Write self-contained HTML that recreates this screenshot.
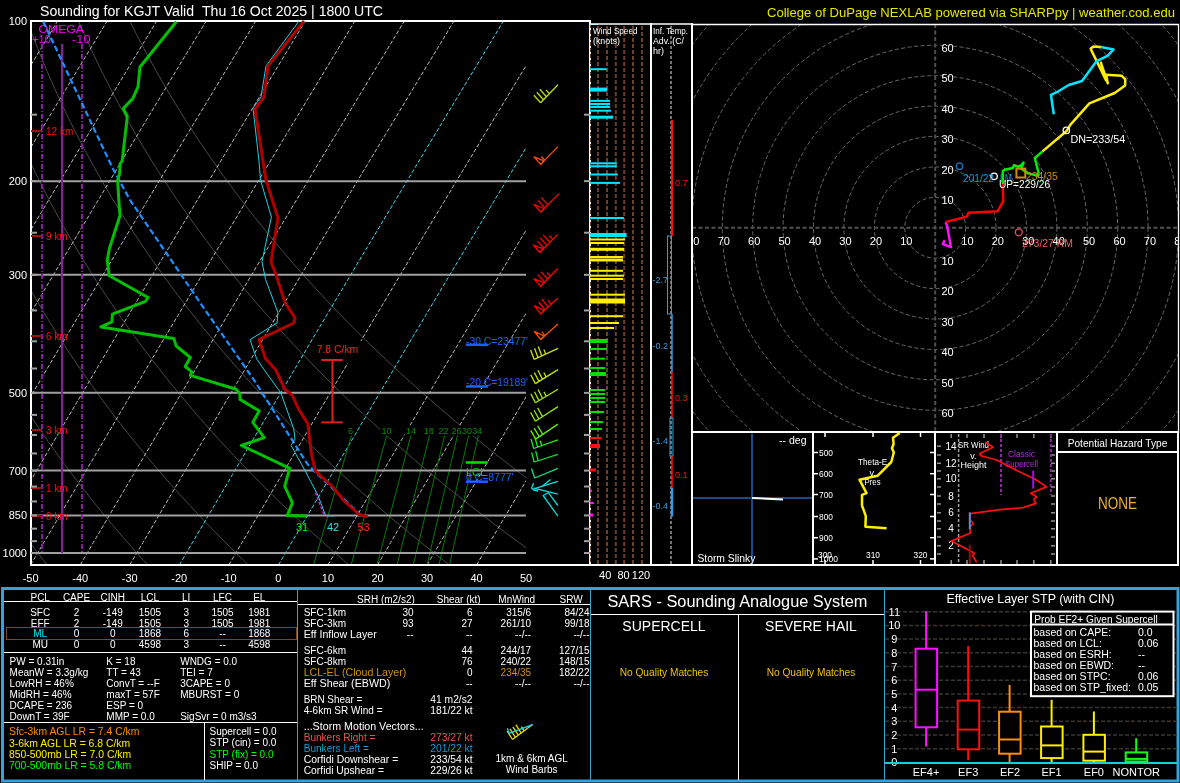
<!DOCTYPE html>
<html><head><meta charset="utf-8"><style>
html,body{margin:0;padding:0;background:#000;width:1180px;height:783px;overflow:hidden}
svg{display:block;will-change:transform}
text{font-family:"Liberation Sans",sans-serif}
</style></head><body>
<svg width="1180" height="783" viewBox="0 0 1180 783">
<rect width="1180" height="783" fill="#000"/>
<text x="40.0" y="16.0" font-size="14" fill="#fff" text-anchor="start" textLength="343" lengthAdjust="spacingAndGlyphs" >Sounding for KGJT Valid  Thu 16 Oct 2025 | 1800 UTC</text>
<text x="767.0" y="17.2" font-size="13" fill="#e6e600" text-anchor="start" textLength="408" lengthAdjust="spacingAndGlyphs" >College of DuPage NEXLAB powered via SHARPpy | weather.cod.edu</text>
<defs><clipPath id="sk"><rect x="32" y="22" width="494" height="542"/></clipPath><clipPath id="hodo"><rect x="692.5" y="25" width="485.5" height="405.5"/></clipPath></defs>
<g clip-path="url(#sk)">
<polyline points="-229.5,21.0 -229.2,25.6 -229.0,30.1 -228.7,34.7 -228.4,39.3 -228.1,43.9 -227.8,48.4 -227.5,53.0 -227.1,57.6 -226.8,62.1 -226.4,66.7 -226.0,71.3 -225.6,75.9 -225.1,80.4 -224.7,85.0 -224.2,89.6 -223.7,94.1 -223.2,98.7 -222.7,103.3 -222.1,107.9 -221.5,112.4 -221.0,117.0 -220.4,121.6 -219.7,126.1 -219.1,130.7 -218.4,135.3 -217.8,139.9 -217.1,144.4 -216.3,149.0 -215.6,153.6 -214.8,158.1 -214.1,162.7 -213.3,167.3 -212.4,171.9 -211.6,176.4 -210.8,181.0 -209.9,185.6 -209.0,190.1 -208.1,194.7 -207.1,199.3 -206.2,203.9 -205.2,208.4 -204.2,213.0 -203.2,217.6 -202.1,222.1 -201.0,226.7 -200.0,231.3 -198.8,235.9 -197.7,240.4 -196.6,245.0 -195.4,249.6 -194.2,254.1 -193.0,258.7 -191.7,263.3 -190.5,267.9 -189.2,272.4 -187.9,277.0 -186.5,281.6 -185.2,286.1 -183.8,290.7 -182.4,295.3 -181.0,299.9 -179.5,304.4 -178.1,309.0 -176.6,313.6 -175.0,318.1 -173.5,322.7 -171.9,327.3 -170.3,331.9 -168.7,336.4 -167.1,341.0 -165.4,345.6 -163.7,350.1 -162.0,354.7 -160.3,359.3 -158.5,363.9 -156.7,368.4 -154.9,373.0 -153.1,377.6 -151.2,382.1 -149.3,386.7 -147.4,391.3 -145.4,395.9 -143.4,400.4 -141.4,405.0 -139.4,409.6 -137.4,414.1 -135.3,418.7 -133.2,423.3 -131.0,427.9 -128.9,432.4 -126.7,437.0 -124.5,441.6 -122.2,446.1 -119.9,450.7 -117.6,455.3 -115.3,459.9 -112.9,464.4 -110.5,469.0 -108.1,473.6 -105.7,478.1 -103.2,482.7 -100.7,487.3 -98.2,491.9 -95.6,496.4 -93.0,501.0 -90.4,505.6 -87.7,510.1 -85.0,514.7 -82.3,519.3 -79.6,523.9 -76.8,528.4 -74.0,533.0 -71.1,537.6 -68.3,542.1 -65.3,546.7 -62.4,551.3 -59.4,555.9 -56.4,560.4 -53.4,565.0" fill="none" stroke="#4a4a4a" stroke-width="1" stroke-linejoin="round" />
<polyline points="-178.1,21.0 -177.6,25.6 -177.1,30.1 -176.5,34.7 -175.9,39.3 -175.3,43.9 -174.7,48.4 -174.1,53.0 -173.4,57.6 -172.8,62.1 -172.1,66.7 -171.4,71.3 -170.6,75.9 -169.9,80.4 -169.1,85.0 -168.3,89.6 -167.5,94.1 -166.7,98.7 -165.8,103.3 -165.0,107.9 -164.1,112.4 -163.2,117.0 -162.2,121.6 -161.3,126.1 -160.3,130.7 -159.3,135.3 -158.3,139.9 -157.3,144.4 -156.2,149.0 -155.1,153.6 -154.0,158.1 -152.9,162.7 -151.8,167.3 -150.6,171.9 -149.4,176.4 -148.2,181.0 -147.0,185.6 -145.7,190.1 -144.4,194.7 -143.1,199.3 -141.8,203.9 -140.5,208.4 -139.1,213.0 -137.7,217.6 -136.3,222.1 -134.8,226.7 -133.4,231.3 -131.9,235.9 -130.4,240.4 -128.9,245.0 -127.3,249.6 -125.7,254.1 -124.1,258.7 -122.5,263.3 -120.8,267.9 -119.1,272.4 -117.4,277.0 -115.7,281.6 -113.9,286.1 -112.2,290.7 -110.4,295.3 -108.5,299.9 -106.7,304.4 -104.8,309.0 -102.9,313.6 -100.9,318.1 -99.0,322.7 -97.0,327.3 -95.0,331.9 -92.9,336.4 -90.8,341.0 -88.7,345.6 -86.6,350.1 -84.5,354.7 -82.3,359.3 -80.1,363.9 -77.8,368.4 -75.6,373.0 -73.3,377.6 -71.0,382.1 -68.6,386.7 -66.2,391.3 -63.8,395.9 -61.4,400.4 -58.9,405.0 -56.4,409.6 -53.9,414.1 -51.3,418.7 -48.8,423.3 -46.1,427.9 -43.5,432.4 -40.8,437.0 -38.1,441.6 -35.4,446.1 -32.6,450.7 -29.8,455.3 -27.0,459.9 -24.1,464.4 -21.2,469.0 -18.3,473.6 -15.3,478.1 -12.4,482.7 -9.3,487.3 -6.3,491.9 -3.2,496.4 -0.1,501.0 3.1,505.6 6.3,510.1 9.5,514.7 12.7,519.3 16.0,523.9 19.4,528.4 22.7,533.0 26.1,537.6 29.5,542.1 33.0,546.7 36.5,551.3 40.0,555.9 43.6,560.4 47.2,565.0" fill="none" stroke="#4a4a4a" stroke-width="1" stroke-linejoin="round" />
<polyline points="-126.8,21.0 -126.0,25.6 -125.2,30.1 -124.3,34.7 -123.4,39.3 -122.5,43.9 -121.6,48.4 -120.7,53.0 -119.7,57.6 -118.8,62.1 -117.8,66.7 -116.7,71.3 -115.7,75.9 -114.6,80.4 -113.6,85.0 -112.5,89.6 -111.3,94.1 -110.2,98.7 -109.0,103.3 -107.8,107.9 -106.6,112.4 -105.4,117.0 -104.1,121.6 -102.8,126.1 -101.5,130.7 -100.2,135.3 -98.8,139.9 -97.5,144.4 -96.1,149.0 -94.7,153.6 -93.2,158.1 -91.7,162.7 -90.3,167.3 -88.7,171.9 -87.2,176.4 -85.6,181.0 -84.1,185.6 -82.4,190.1 -80.8,194.7 -79.1,199.3 -77.5,203.9 -75.7,208.4 -74.0,213.0 -72.2,217.6 -70.5,222.1 -68.6,226.7 -66.8,231.3 -64.9,235.9 -63.1,240.4 -61.1,245.0 -59.2,249.6 -57.2,254.1 -55.2,258.7 -53.2,263.3 -51.2,267.9 -49.1,272.4 -47.0,277.0 -44.9,281.6 -42.7,286.1 -40.5,290.7 -38.3,295.3 -36.1,299.9 -33.8,304.4 -31.5,309.0 -29.2,313.6 -26.8,318.1 -24.4,322.7 -22.0,327.3 -19.6,331.9 -17.1,336.4 -14.6,341.0 -12.1,345.6 -9.5,350.1 -6.9,354.7 -4.3,359.3 -1.6,363.9 1.0,368.4 3.8,373.0 6.5,377.6 9.3,382.1 12.1,386.7 14.9,391.3 17.8,395.9 20.7,400.4 23.6,405.0 26.6,409.6 29.6,414.1 32.6,418.7 35.7,423.3 38.7,427.9 41.9,432.4 45.0,437.0 48.2,441.6 51.5,446.1 54.7,450.7 58.0,455.3 61.3,459.9 64.7,464.4 68.1,469.0 71.5,473.6 75.0,478.1 78.5,482.7 82.0,487.3 85.6,491.9 89.2,496.4 92.9,501.0 96.5,505.6 100.3,510.1 104.0,514.7 107.8,519.3 111.6,523.9 115.5,528.4 119.4,533.0 123.3,537.6 127.3,542.1 131.3,546.7 135.4,551.3 139.5,555.9 143.6,560.4 147.8,565.0" fill="none" stroke="#4a4a4a" stroke-width="1" stroke-linejoin="round" />
<polyline points="-75.5,21.0 -74.4,25.6 -73.3,30.1 -72.1,34.7 -70.9,39.3 -69.7,43.9 -68.5,48.4 -67.3,53.0 -66.0,57.6 -64.8,62.1 -63.4,66.7 -62.1,71.3 -60.8,75.9 -59.4,80.4 -58.0,85.0 -56.6,89.6 -55.1,94.1 -53.7,98.7 -52.2,103.3 -50.7,107.9 -49.1,112.4 -47.6,117.0 -46.0,121.6 -44.4,126.1 -42.7,130.7 -41.1,135.3 -39.4,139.9 -37.7,144.4 -35.9,149.0 -34.2,153.6 -32.4,158.1 -30.6,162.7 -28.7,167.3 -26.9,171.9 -25.0,176.4 -23.1,181.0 -21.1,185.6 -19.2,190.1 -17.2,194.7 -15.2,199.3 -13.1,203.9 -11.0,208.4 -8.9,213.0 -6.8,217.6 -4.6,222.1 -2.5,226.7 -0.2,231.3 2.0,235.9 4.3,240.4 6.6,245.0 8.9,249.6 11.3,254.1 13.6,258.7 16.0,263.3 18.5,267.9 21.0,272.4 23.5,277.0 26.0,281.6 28.5,286.1 31.1,290.7 33.8,295.3 36.4,299.9 39.1,304.4 41.8,309.0 44.5,313.6 47.3,318.1 50.1,322.7 53.0,327.3 55.8,331.9 58.7,336.4 61.7,341.0 64.6,345.6 67.6,350.1 70.6,354.7 73.7,359.3 76.8,363.9 79.9,368.4 83.1,373.0 86.3,377.6 89.5,382.1 92.8,386.7 96.0,391.3 99.4,395.9 102.7,400.4 106.1,405.0 109.6,409.6 113.0,414.1 116.5,418.7 120.1,423.3 123.6,427.9 127.2,432.4 130.9,437.0 134.6,441.6 138.3,446.1 142.0,450.7 145.8,455.3 149.7,459.9 153.5,464.4 157.4,469.0 161.4,473.6 165.3,478.1 169.3,482.7 173.4,487.3 177.5,491.9 181.6,496.4 185.8,501.0 190.0,505.6 194.2,510.1 198.5,514.7 202.9,519.3 207.2,523.9 211.6,528.4 216.1,533.0 220.6,537.6 225.1,542.1 229.7,546.7 234.3,551.3 238.9,555.9 243.6,560.4 248.3,565.0" fill="none" stroke="#4a4a4a" stroke-width="1" stroke-linejoin="round" />
<polyline points="-24.2,21.0 -22.8,25.6 -21.3,30.1 -19.9,34.7 -18.4,39.3 -16.9,43.9 -15.4,48.4 -13.9,53.0 -12.3,57.6 -10.7,62.1 -9.1,66.7 -7.5,71.3 -5.8,75.9 -4.2,80.4 -2.4,85.0 -0.7,89.6 1.0,94.1 2.8,98.7 4.6,103.3 6.5,107.9 8.3,112.4 10.2,117.0 12.1,121.6 14.1,126.1 16.1,130.7 18.0,135.3 20.1,139.9 22.1,144.4 24.2,149.0 26.3,153.6 28.4,158.1 30.6,162.7 32.8,167.3 35.0,171.9 37.2,176.4 39.5,181.0 41.8,185.6 44.1,190.1 46.5,194.7 48.8,199.3 51.2,203.9 53.7,208.4 56.2,213.0 58.7,217.6 61.2,222.1 63.7,226.7 66.3,231.3 69.0,235.9 71.6,240.4 74.3,245.0 77.0,249.6 79.7,254.1 82.5,258.7 85.3,263.3 88.1,267.9 91.0,272.4 93.9,277.0 96.8,281.6 99.8,286.1 102.8,290.7 105.8,295.3 108.9,299.9 112.0,304.4 115.1,309.0 118.2,313.6 121.4,318.1 124.7,322.7 127.9,327.3 131.2,331.9 134.5,336.4 137.9,341.0 141.3,345.6 144.7,350.1 148.2,354.7 151.7,359.3 155.2,363.9 158.8,368.4 162.4,373.0 166.0,377.6 169.7,382.1 173.4,386.7 177.2,391.3 181.0,395.9 184.8,400.4 188.7,405.0 192.6,409.6 196.5,414.1 200.5,418.7 204.5,423.3 208.5,427.9 212.6,432.4 216.7,437.0 220.9,441.6 225.1,446.1 229.4,450.7 233.6,455.3 238.0,459.9 242.3,464.4 246.7,469.0 251.2,473.6 255.7,478.1 260.2,482.7 264.8,487.3 269.4,491.9 274.0,496.4 278.7,501.0 283.4,505.6 288.2,510.1 293.0,514.7 297.9,519.3 302.8,523.9 307.8,528.4 312.7,533.0 317.8,537.6 322.9,542.1 328.0,546.7 333.2,551.3 338.4,555.9 343.6,560.4 348.9,565.0" fill="none" stroke="#4a4a4a" stroke-width="1" stroke-linejoin="round" />
<polyline points="27.2,21.0 28.9,25.6 30.6,30.1 32.3,34.7 34.1,39.3 35.9,43.9 37.7,48.4 39.5,53.0 41.4,57.6 43.3,62.1 45.2,66.7 47.1,71.3 49.1,75.9 51.1,80.4 53.1,85.0 55.2,89.6 57.2,94.1 59.3,98.7 61.5,103.3 63.6,107.9 65.8,112.4 68.0,117.0 70.3,121.6 72.5,126.1 74.8,130.7 77.2,135.3 79.5,139.9 81.9,144.4 84.3,149.0 86.8,153.6 89.2,158.1 91.7,162.7 94.3,167.3 96.8,171.9 99.4,176.4 102.0,181.0 104.7,185.6 107.4,190.1 110.1,194.7 112.8,199.3 115.6,203.9 118.4,208.4 121.2,213.0 124.1,217.6 127.0,222.1 129.9,226.7 132.9,231.3 135.9,235.9 138.9,240.4 142.0,245.0 145.1,249.6 148.2,254.1 151.4,258.7 154.6,263.3 157.8,267.9 161.1,272.4 164.3,277.0 167.7,281.6 171.0,286.1 174.4,290.7 177.9,295.3 181.3,299.9 184.8,304.4 188.4,309.0 191.9,313.6 195.6,318.1 199.2,322.7 202.9,327.3 206.6,331.9 210.4,336.4 214.1,341.0 218.0,345.6 221.8,350.1 225.7,354.7 229.7,359.3 233.7,363.9 237.7,368.4 241.7,373.0 245.8,377.6 249.9,382.1 254.1,386.7 258.3,391.3 262.6,395.9 266.9,400.4 271.2,405.0 275.6,409.6 280.0,414.1 284.4,418.7 288.9,423.3 293.4,427.9 298.0,432.4 302.6,437.0 307.3,441.6 312.0,446.1 316.7,450.7 321.5,455.3 326.3,459.9 331.2,464.4 336.1,469.0 341.0,473.6 346.0,478.1 351.0,482.7 356.1,487.3 361.3,491.9 366.4,496.4 371.6,501.0 376.9,505.6 382.2,510.1 387.6,514.7 393.0,519.3 398.4,523.9 403.9,528.4 409.4,533.0 415.0,537.6 420.6,542.1 426.3,546.7 432.0,551.3 437.8,555.9 443.6,560.4 449.5,565.0" fill="none" stroke="#4a4a4a" stroke-width="1" stroke-linejoin="round" />
<polyline points="78.5,21.0 80.5,25.6 82.5,30.1 84.5,34.7 86.6,39.3 88.7,43.9 90.8,48.4 92.9,53.0 95.1,57.6 97.3,62.1 99.5,66.7 101.7,71.3 104.0,75.9 106.3,80.4 108.7,85.0 111.0,89.6 113.4,94.1 115.8,98.7 118.3,103.3 120.8,107.9 123.3,112.4 125.8,117.0 128.4,121.6 131.0,126.1 133.6,130.7 136.3,135.3 139.0,139.9 141.7,144.4 144.5,149.0 147.2,153.6 150.0,158.1 152.9,162.7 155.8,167.3 158.7,171.9 161.6,176.4 164.6,181.0 167.6,185.6 170.6,190.1 173.7,194.7 176.8,199.3 180.0,203.9 183.1,208.4 186.3,213.0 189.6,217.6 192.8,222.1 196.1,226.7 199.5,231.3 202.9,235.9 206.3,240.4 209.7,245.0 213.2,249.6 216.7,254.1 220.2,258.7 223.8,263.3 227.4,267.9 231.1,272.4 234.8,277.0 238.5,281.6 242.3,286.1 246.1,290.7 249.9,295.3 253.8,299.9 257.7,304.4 261.7,309.0 265.7,313.6 269.7,318.1 273.7,322.7 277.8,327.3 282.0,331.9 286.2,336.4 290.4,341.0 294.6,345.6 298.9,350.1 303.3,354.7 307.7,359.3 312.1,363.9 316.5,368.4 321.0,373.0 325.6,377.6 330.2,382.1 334.8,386.7 339.5,391.3 344.2,395.9 348.9,400.4 353.7,405.0 358.5,409.6 363.4,414.1 368.3,418.7 373.3,423.3 378.3,427.9 383.4,432.4 388.5,437.0 393.6,441.6 398.8,446.1 404.0,450.7 409.3,455.3 414.6,459.9 420.0,464.4 425.4,469.0 430.8,473.6 436.3,478.1 441.9,482.7 447.5,487.3 453.1,491.9 458.8,496.4 464.6,501.0 470.4,505.6 476.2,510.1 482.1,514.7 488.0,519.3 494.0,523.9 500.0,528.4 506.1,533.0 512.2,537.6 518.4,542.1 524.7,546.7 530.9,551.3 537.3,555.9 543.7,560.4 550.1,565.0" fill="none" stroke="#4a4a4a" stroke-width="1" stroke-linejoin="round" />
<polyline points="129.8,21.0 132.1,25.6 134.4,30.1 136.7,34.7 139.1,39.3 141.5,43.9 143.9,48.4 146.3,53.0 148.8,57.6 151.3,62.1 153.8,66.7 156.4,71.3 159.0,75.9 161.6,80.4 164.2,85.0 166.9,89.6 169.6,94.1 172.4,98.7 175.1,103.3 177.9,107.9 180.8,112.4 183.6,117.0 186.5,121.6 189.5,126.1 192.4,130.7 195.4,135.3 198.4,139.9 201.5,144.4 204.6,149.0 207.7,153.6 210.9,158.1 214.1,162.7 217.3,167.3 220.5,171.9 223.8,176.4 227.2,181.0 230.5,185.6 233.9,190.1 237.3,194.7 240.8,199.3 244.3,203.9 247.8,208.4 251.4,213.0 255.0,217.6 258.7,222.1 262.3,226.7 266.1,231.3 269.8,235.9 273.6,240.4 277.4,245.0 281.3,249.6 285.2,254.1 289.1,258.7 293.1,263.3 297.1,267.9 301.1,272.4 305.2,277.0 309.4,281.6 313.5,286.1 317.7,290.7 322.0,295.3 326.3,299.9 330.6,304.4 335.0,309.0 339.4,313.6 343.8,318.1 348.3,322.7 352.8,327.3 357.4,331.9 362.0,336.4 366.6,341.0 371.3,345.6 376.1,350.1 380.8,354.7 385.7,359.3 390.5,363.9 395.4,368.4 400.4,373.0 405.4,377.6 410.4,382.1 415.5,386.7 420.6,391.3 425.8,395.9 431.0,400.4 436.2,405.0 441.5,409.6 446.9,414.1 452.3,418.7 457.7,423.3 463.2,427.9 468.7,432.4 474.3,437.0 479.9,441.6 485.6,446.1 491.3,450.7 497.1,455.3 502.9,459.9 508.8,464.4 514.7,469.0 520.7,473.6 526.7,478.1 532.7,482.7 538.9,487.3 545.0,491.9 551.2,496.4 557.5,501.0 563.8,505.6 570.2,510.1 576.6,514.7 583.1,519.3 589.6,523.9 596.2,528.4 602.8,533.0 609.5,537.6 616.2,542.1 623.0,546.7 629.8,551.3 636.7,555.9 643.7,560.4 650.7,565.0" fill="none" stroke="#4a4a4a" stroke-width="1" stroke-linejoin="round" />
<polyline points="-514.4,565.0 -501.1,542.3 -487.8,519.7 -474.4,497.0 -461.1,474.3 -447.8,451.7 -434.4,429.0 -421.0,406.3 -407.6,383.7 -394.2,361.0 -380.8,338.3 -367.3,315.7 -353.8,293.0 -340.3,270.3 -326.7,247.7 -313.1,225.0 -299.5,202.3 -285.9,179.7 -272.3,157.0 -258.6,134.3 -245.0,111.7 -231.3,89.0 -217.6,66.3 -203.9,43.7 -190.2,21.0" fill="none" stroke="#bbb" stroke-width="1" stroke-linejoin="round" stroke-dasharray="4,2"/>
<polyline points="-464.9,565.0 -451.5,542.3 -438.2,519.7 -424.9,497.0 -411.6,474.3 -398.2,451.7 -384.9,429.0 -371.5,406.3 -358.1,383.7 -344.7,361.0 -331.2,338.3 -317.7,315.7 -304.2,293.0 -290.7,270.3 -277.2,247.7 -263.6,225.0 -250.0,202.3 -236.4,179.7 -222.7,157.0 -209.1,134.3 -195.4,111.7 -181.7,89.0 -168.0,66.3 -154.3,43.7 -140.6,21.0" fill="none" stroke="#bbb" stroke-width="1" stroke-linejoin="round" stroke-dasharray="4,2"/>
<polyline points="-415.3,565.0 -402.0,542.3 -388.7,519.7 -375.3,497.0 -362.0,474.3 -348.7,451.7 -335.3,429.0 -321.9,406.3 -308.5,383.7 -295.1,361.0 -281.7,338.3 -268.2,315.7 -254.7,293.0 -241.2,270.3 -227.6,247.7 -214.0,225.0 -200.4,202.3 -186.8,179.7 -173.2,157.0 -159.5,134.3 -145.9,111.7 -132.2,89.0 -118.5,66.3 -104.8,43.7 -91.1,21.0" fill="none" stroke="#bbb" stroke-width="1" stroke-linejoin="round" stroke-dasharray="4,2"/>
<polyline points="-365.8,565.0 -352.4,542.3 -339.1,519.7 -325.8,497.0 -312.5,474.3 -299.1,451.7 -285.8,429.0 -272.4,406.3 -259.0,383.7 -245.6,361.0 -232.1,338.3 -218.6,315.7 -205.1,293.0 -191.6,270.3 -178.1,247.7 -164.5,225.0 -150.9,202.3 -137.3,179.7 -123.6,157.0 -110.0,134.3 -96.3,111.7 -82.6,89.0 -68.9,66.3 -55.2,43.7 -41.5,21.0" fill="none" stroke="#bbb" stroke-width="1" stroke-linejoin="round" stroke-dasharray="4,2"/>
<polyline points="-316.2,565.0 -302.9,542.3 -289.6,519.7 -276.2,497.0 -262.9,474.3 -249.6,451.7 -236.2,429.0 -222.8,406.3 -209.4,383.7 -196.0,361.0 -182.6,338.3 -169.1,315.7 -155.6,293.0 -142.1,270.3 -128.5,247.7 -114.9,225.0 -101.3,202.3 -87.7,179.7 -74.1,157.0 -60.4,134.3 -46.8,111.7 -33.1,89.0 -19.4,66.3 -5.7,43.7 8.0,21.0" fill="none" stroke="#bbb" stroke-width="1" stroke-linejoin="round" stroke-dasharray="4,2"/>
<polyline points="-266.6,565.0 -253.3,542.3 -240.0,519.7 -226.7,497.0 -213.4,474.3 -200.0,451.7 -186.7,429.0 -173.3,406.3 -159.9,383.7 -146.5,361.0 -133.0,338.3 -119.5,315.7 -106.0,293.0 -92.5,270.3 -79.0,247.7 -65.4,225.0 -51.8,202.3 -38.2,179.7 -24.5,157.0 -10.9,134.3 2.8,111.7 16.5,89.0 30.2,66.3 43.9,43.7 57.6,21.0" fill="none" stroke="#bbb" stroke-width="1" stroke-linejoin="round" stroke-dasharray="4,2"/>
<polyline points="-217.1,565.0 -203.8,542.3 -190.5,519.7 -177.1,497.0 -163.8,474.3 -150.5,451.7 -137.1,429.0 -123.7,406.3 -110.3,383.7 -96.9,361.0 -83.5,338.3 -70.0,315.7 -56.5,293.0 -43.0,270.3 -29.4,247.7 -15.8,225.0 -2.2,202.3 11.4,179.7 25.0,157.0 38.7,134.3 52.3,111.7 66.0,89.0 79.7,66.3 93.4,43.7 107.1,21.0" fill="none" stroke="#bbb" stroke-width="1" stroke-linejoin="round" stroke-dasharray="4,2"/>
<polyline points="-167.6,565.0 -154.2,542.3 -140.9,519.7 -127.6,497.0 -114.3,474.3 -100.9,451.7 -87.6,429.0 -74.2,406.3 -60.8,383.7 -47.4,361.0 -33.9,338.3 -20.4,315.7 -6.9,293.0 6.6,270.3 20.1,247.7 33.7,225.0 47.3,202.3 60.9,179.7 74.6,157.0 88.2,134.3 101.9,111.7 115.6,89.0 129.3,66.3 143.0,43.7 156.7,21.0" fill="none" stroke="#bbb" stroke-width="1" stroke-linejoin="round" stroke-dasharray="4,2"/>
<polyline points="-118.0,565.0 -104.7,542.3 -91.4,519.7 -78.0,497.0 -64.7,474.3 -51.4,451.7 -38.0,429.0 -24.6,406.3 -11.2,383.7 2.2,361.0 15.6,338.3 29.1,315.7 42.6,293.0 56.1,270.3 69.7,247.7 83.3,225.0 96.9,202.3 110.5,179.7 124.1,157.0 137.8,134.3 151.4,111.7 165.1,89.0 178.8,66.3 192.5,43.7 206.2,21.0" fill="none" stroke="#bbb" stroke-width="1" stroke-linejoin="round" stroke-dasharray="4,2"/>
<polyline points="-68.5,565.0 -55.1,542.3 -41.8,519.7 -28.5,497.0 -15.2,474.3 -1.8,451.7 11.5,429.0 24.9,406.3 38.3,383.7 51.7,361.0 65.2,338.3 78.7,315.7 92.2,293.0 105.7,270.3 119.2,247.7 132.8,225.0 146.4,202.3 160.0,179.7 173.7,157.0 187.3,134.3 201.0,111.7 214.7,89.0 228.4,66.3 242.1,43.7 255.8,21.0" fill="none" stroke="#bbb" stroke-width="1" stroke-linejoin="round" stroke-dasharray="4,2"/>
<polyline points="-18.9,565.0 -5.6,542.3 7.7,519.7 21.1,497.0 34.4,474.3 47.7,451.7 61.1,429.0 74.5,406.3 87.9,383.7 101.3,361.0 114.7,338.3 128.2,315.7 141.7,293.0 155.2,270.3 168.8,247.7 182.4,225.0 196.0,202.3 209.6,179.7 223.2,157.0 236.9,134.3 250.5,111.7 264.2,89.0 277.9,66.3 291.6,43.7 305.3,21.0" fill="none" stroke="#bbb" stroke-width="1" stroke-linejoin="round" stroke-dasharray="4,2"/>
<polyline points="30.6,565.0 44.0,542.3 57.3,519.7 70.6,497.0 83.9,474.3 97.3,451.7 110.6,429.0 124.0,406.3 137.4,383.7 150.8,361.0 164.3,338.3 177.8,315.7 191.3,293.0 204.8,270.3 218.3,247.7 231.9,225.0 245.5,202.3 259.1,179.7 272.8,157.0 286.4,134.3 300.1,111.7 313.8,89.0 327.5,66.3 341.2,43.7 354.9,21.0" fill="none" stroke="#bbb" stroke-width="1" stroke-linejoin="round" stroke-dasharray="4,2"/>
<polyline points="80.2,565.0 93.5,542.3 106.8,519.7 120.2,497.0 133.5,474.3 146.8,451.7 160.2,429.0 173.6,406.3 187.0,383.7 200.4,361.0 213.8,338.3 227.3,315.7 240.8,293.0 254.3,270.3 267.9,247.7 281.5,225.0 295.1,202.3 308.7,179.7 322.3,157.0 336.0,134.3 349.6,111.7 363.3,89.0 377.0,66.3 390.7,43.7 404.4,21.0" fill="none" stroke="#bbb" stroke-width="1" stroke-linejoin="round" stroke-dasharray="4,2"/>
<polyline points="129.7,565.0 143.1,542.3 156.4,519.7 169.7,497.0 183.0,474.3 196.4,451.7 209.7,429.0 223.1,406.3 236.5,383.7 249.9,361.0 263.4,338.3 276.9,315.7 290.4,293.0 303.9,270.3 317.4,247.7 331.0,225.0 344.6,202.3 358.2,179.7 371.9,157.0 385.5,134.3 399.2,111.7 412.9,89.0 426.6,66.3 440.3,43.7 454.0,21.0" fill="none" stroke="#bbb" stroke-width="1" stroke-linejoin="round" stroke-dasharray="4,2"/>
<polyline points="179.3,565.0 192.6,542.3 205.9,519.7 219.3,497.0 232.6,474.3 245.9,451.7 259.3,429.0 272.7,406.3 286.1,383.7 299.5,361.0 312.9,338.3 326.4,315.7 339.9,293.0 353.4,270.3 367.0,247.7 380.6,225.0 394.2,202.3 407.8,179.7 421.4,157.0 435.1,134.3 448.7,111.7 462.4,89.0 476.1,66.3 489.8,43.7 503.5,21.0" fill="none" stroke="#48d8ec" stroke-width="1" stroke-linejoin="round" stroke-dasharray="4,2"/>
<polyline points="228.8,565.0 242.2,542.3 255.5,519.7 268.8,497.0 282.1,474.3 295.5,451.7 308.8,429.0 322.2,406.3 335.6,383.7 349.0,361.0 362.5,338.3 376.0,315.7 389.5,293.0 403.0,270.3 416.5,247.7 430.1,225.0 443.7,202.3 457.3,179.7 471.0,157.0 484.6,134.3 498.3,111.7 512.0,89.0 525.7,66.3 539.4,43.7 553.1,21.0" fill="none" stroke="#bbb" stroke-width="1" stroke-linejoin="round" stroke-dasharray="4,2"/>
<polyline points="278.4,565.0 291.7,542.3 305.0,519.7 318.4,497.0 331.7,474.3 345.0,451.7 358.4,429.0 371.8,406.3 385.2,383.7 398.6,361.0 412.0,338.3 425.5,315.7 439.0,293.0 452.5,270.3 466.1,247.7 479.7,225.0 493.3,202.3 506.9,179.7 520.5,157.0 534.2,134.3 547.8,111.7 561.5,89.0 575.2,66.3 588.9,43.7 602.6,21.0" fill="none" stroke="#48d8ec" stroke-width="1" stroke-linejoin="round" stroke-dasharray="4,2"/>
<polyline points="327.9,565.0 341.3,542.3 354.6,519.7 367.9,497.0 381.2,474.3 394.6,451.7 407.9,429.0 421.3,406.3 434.7,383.7 448.1,361.0 461.6,338.3 475.1,315.7 488.6,293.0 502.1,270.3 515.6,247.7 529.2,225.0 542.8,202.3 556.4,179.7 570.1,157.0 583.7,134.3 597.4,111.7 611.1,89.0 624.8,66.3 638.5,43.7 652.2,21.0" fill="none" stroke="#bbb" stroke-width="1" stroke-linejoin="round" stroke-dasharray="4,2"/>
<polyline points="377.5,565.0 390.8,542.3 404.1,519.7 417.5,497.0 430.8,474.3 444.1,451.7 457.5,429.0 470.9,406.3 484.3,383.7 497.7,361.0 511.1,338.3 524.6,315.7 538.1,293.0 551.6,270.3 565.2,247.7 578.8,225.0 592.4,202.3 606.0,179.7 619.6,157.0 633.3,134.3 646.9,111.7 660.6,89.0 674.3,66.3 688.0,43.7 701.7,21.0" fill="none" stroke="#bbb" stroke-width="1" stroke-linejoin="round" stroke-dasharray="4,2"/>
<polyline points="427.0,565.0 440.4,542.3 453.7,519.7 467.0,497.0 480.3,474.3 493.7,451.7 507.0,429.0 520.4,406.3 533.8,383.7 547.2,361.0 560.7,338.3 574.2,315.7 587.7,293.0 601.2,270.3 614.7,247.7 628.3,225.0 641.9,202.3 655.5,179.7 669.2,157.0 682.8,134.3 696.5,111.7 710.2,89.0 723.9,66.3 737.6,43.7 751.3,21.0" fill="none" stroke="#bbb" stroke-width="1" stroke-linejoin="round" stroke-dasharray="4,2"/>
<polyline points="476.6,565.0 489.9,542.3 503.2,519.7 516.6,497.0 529.9,474.3 543.2,451.7 556.6,429.0 570.0,406.3 583.4,383.7 596.8,361.0 610.2,338.3 623.7,315.7 637.2,293.0 650.7,270.3 664.3,247.7 677.9,225.0 691.5,202.3 705.1,179.7 718.7,157.0 732.4,134.3 746.0,111.7 759.7,89.0 773.4,66.3 787.1,43.7 800.8,21.0" fill="none" stroke="#bbb" stroke-width="1" stroke-linejoin="round" stroke-dasharray="4,2"/>
<polyline points="526.1,565.0 539.5,542.3 552.8,519.7 566.1,497.0 579.4,474.3 592.8,451.7 606.1,429.0 619.5,406.3 632.9,383.7 646.3,361.0 659.8,338.3 673.3,315.7 686.8,293.0 700.3,270.3 713.8,247.7 727.4,225.0 741.0,202.3 754.6,179.7 768.3,157.0 781.9,134.3 795.6,111.7 809.3,89.0 823.0,66.3 836.7,43.7 850.4,21.0" fill="none" stroke="#bbb" stroke-width="1" stroke-linejoin="round" stroke-dasharray="4,2"/>
<line x1="351.61" y1="435.00" x2="313.53" y2="565.00" stroke="#0a7a0a" stroke-width="1" />
<line x1="386.81" y1="435.00" x2="351.16" y2="565.00" stroke="#0a7a0a" stroke-width="1" />
<line x1="411.01" y1="435.00" x2="377.07" y2="565.00" stroke="#0a7a0a" stroke-width="1" />
<line x1="429.61" y1="435.00" x2="397.01" y2="565.00" stroke="#0a7a0a" stroke-width="1" />
<line x1="444.76" y1="435.00" x2="413.27" y2="565.00" stroke="#0a7a0a" stroke-width="1" />
<line x1="457.58" y1="435.00" x2="427.03" y2="565.00" stroke="#0a7a0a" stroke-width="1" />
<line x1="468.70" y1="435.00" x2="438.97" y2="565.00" stroke="#0a7a0a" stroke-width="1" />
<line x1="478.52" y1="435.00" x2="449.53" y2="565.00" stroke="#0a7a0a" stroke-width="1" />
</g>
<rect x="346.9" y="425.5" width="7.4" height="10" fill="#000"/>
<rect x="380.2" y="425.5" width="12.8" height="10" fill="#000"/>
<rect x="404.5" y="425.5" width="12.8" height="10" fill="#000"/>
<rect x="422.4" y="425.5" width="12.8" height="10" fill="#000"/>
<rect x="437.2" y="425.5" width="12.8" height="10" fill="#000"/>
<rect x="450.0" y="425.5" width="12.8" height="10" fill="#000"/>
<rect x="460.7" y="425.5" width="12.8" height="10" fill="#000"/>
<rect x="470.9" y="425.5" width="12.8" height="10" fill="#000"/>
<text x="350.6" y="434.2" font-size="9" fill="#0a8a0a" text-anchor="middle" >6</text>
<text x="386.6" y="434.2" font-size="9" fill="#0a8a0a" text-anchor="middle" >10</text>
<text x="410.9" y="434.2" font-size="9" fill="#0a8a0a" text-anchor="middle" >14</text>
<text x="428.8" y="434.2" font-size="9" fill="#0a8a0a" text-anchor="middle" >18</text>
<text x="443.6" y="434.2" font-size="9" fill="#0a8a0a" text-anchor="middle" >22</text>
<text x="456.4" y="434.2" font-size="9" fill="#0a8a0a" text-anchor="middle" >26</text>
<text x="467.1" y="434.2" font-size="9" fill="#0a8a0a" text-anchor="middle" >30</text>
<text x="477.3" y="434.2" font-size="9" fill="#0a8a0a" text-anchor="middle" >34</text>
<line x1="31.00" y1="181.16" x2="526.00" y2="181.16" stroke="#a0a0a0" stroke-width="2" />
<text x="27.0" y="185.1" font-size="11" fill="#fff" text-anchor="end" >200</text>
<line x1="31.00" y1="274.83" x2="526.00" y2="274.83" stroke="#a0a0a0" stroke-width="2" />
<text x="27.0" y="278.8" font-size="11" fill="#fff" text-anchor="end" >300</text>
<line x1="31.00" y1="392.86" x2="526.00" y2="392.86" stroke="#a0a0a0" stroke-width="2" />
<text x="27.0" y="396.8" font-size="11" fill="#fff" text-anchor="end" >500</text>
<line x1="31.00" y1="470.59" x2="526.00" y2="470.59" stroke="#a0a0a0" stroke-width="2" />
<text x="27.0" y="474.6" font-size="11" fill="#fff" text-anchor="end" >700</text>
<line x1="31.00" y1="515.45" x2="526.00" y2="515.45" stroke="#a0a0a0" stroke-width="2" />
<text x="27.0" y="519.4" font-size="11" fill="#fff" text-anchor="end" >850</text>
<line x1="31.00" y1="553.00" x2="526.00" y2="553.00" stroke="#a0a0a0" stroke-width="2" />
<text x="27.0" y="557.0" font-size="11" fill="#fff" text-anchor="end" >1000</text>
<text x="27.0" y="25.0" font-size="11" fill="#fff" text-anchor="end" >100</text>
<rect x="31" y="21" width="559" height="544" fill="none" stroke="#fff" stroke-width="2" />
<text x="30.6" y="581.5" font-size="11" fill="#fff" text-anchor="middle" >-50</text>
<text x="80.2" y="581.5" font-size="11" fill="#fff" text-anchor="middle" >-40</text>
<text x="129.7" y="581.5" font-size="11" fill="#fff" text-anchor="middle" >-30</text>
<text x="179.3" y="581.5" font-size="11" fill="#fff" text-anchor="middle" >-20</text>
<text x="228.8" y="581.5" font-size="11" fill="#fff" text-anchor="middle" >-10</text>
<text x="278.4" y="581.5" font-size="11" fill="#fff" text-anchor="middle" >0</text>
<text x="327.9" y="581.5" font-size="11" fill="#fff" text-anchor="middle" >10</text>
<text x="377.5" y="581.5" font-size="11" fill="#fff" text-anchor="middle" >20</text>
<text x="427.0" y="581.5" font-size="11" fill="#fff" text-anchor="middle" >30</text>
<text x="476.6" y="581.5" font-size="11" fill="#fff" text-anchor="middle" >40</text>
<text x="526.1" y="581.5" font-size="11" fill="#fff" text-anchor="middle" >50</text>
<line x1="42.00" y1="44.00" x2="42.00" y2="553.00" stroke="#8c1aa8" stroke-width="2" stroke-dasharray="5,2,1,2"/>
<line x1="82.00" y1="44.00" x2="82.00" y2="553.00" stroke="#8c1aa8" stroke-width="2" stroke-dasharray="5,2,1,2"/>
<line x1="62.00" y1="44.00" x2="62.00" y2="553.00" stroke="#9018a8" stroke-width="2" />
<text x="38.5" y="32.6" font-size="11" fill="#ff00ff" text-anchor="start" textLength="45.5" lengthAdjust="spacingAndGlyphs" >OMEGA</text>
<text x="32.0" y="43.2" font-size="11" fill="#ff00ff" text-anchor="start" textLength="19" lengthAdjust="spacingAndGlyphs" >+10</text>
<text x="72.0" y="43.2" font-size="11" fill="#ff00ff" text-anchor="start" textLength="18.5" lengthAdjust="spacingAndGlyphs" >-10</text>
<line x1="31.00" y1="131.10" x2="42.00" y2="131.10" stroke="#a01010" stroke-width="2" />
<text x="46.0" y="134.7" font-size="10" fill="#ff1010" text-anchor="start" >12 km</text>
<line x1="31.00" y1="236.00" x2="42.00" y2="236.00" stroke="#a01010" stroke-width="2" />
<text x="46.0" y="239.6" font-size="10" fill="#ff1010" text-anchor="start" >9 km</text>
<line x1="31.00" y1="336.00" x2="42.00" y2="336.00" stroke="#a01010" stroke-width="2" />
<text x="46.0" y="339.6" font-size="10" fill="#ff1010" text-anchor="start" >6 km</text>
<line x1="31.00" y1="430.00" x2="42.00" y2="430.00" stroke="#a01010" stroke-width="2" />
<text x="46.0" y="433.6" font-size="10" fill="#ff1010" text-anchor="start" >3 km</text>
<line x1="31.00" y1="488.00" x2="42.00" y2="488.00" stroke="#a01010" stroke-width="2" />
<text x="46.0" y="491.6" font-size="10" fill="#ff1010" text-anchor="start" >1 km</text>
<line x1="31.00" y1="516.00" x2="42.00" y2="516.00" stroke="#a01010" stroke-width="2" />
<text x="46.0" y="519.6" font-size="10" fill="#ff1010" text-anchor="start" >0 km</text>
<polyline points="43.2,21.5 112.8,168.5 130.0,200.0 181.0,274.5 200.0,302.6 254.0,380.0 307.7,464.5 314.1,471.0 361.4,515.6" fill="none" stroke="#1e90ff" stroke-width="2.2" stroke-linejoin="round" stroke-dasharray="6,3"/>
<polyline points="299.0,21.0 266.0,66.0 261.0,97.0 253.0,108.0 259.0,161.0 260.5,180.0 271.4,217.0 262.0,261.7 265.6,279.6 278.0,312.8 277.0,323.0 250.0,339.6 256.6,358.8 264.3,370.0 280.9,393.0 293.7,428.7 295.0,439.0 291.1,445.4 305.2,470.9 317.9,495.2 325.6,515.6 334.5,516.0" fill="none" stroke="#20d0e0" stroke-width="1" stroke-linejoin="round" />
<polyline points="176.3,21.7 140.0,67.0 138.0,86.9 132.9,98.4 123.2,108.6 127.3,116.3 122.2,161.0 120.1,163.6 119.6,173.8 117.6,180.2 118.8,200.0 120.0,215.8 115.0,231.0 109.3,249.0 107.3,260.5 109.3,275.8 148.1,297.5 145.6,301.3 112.4,314.1 111.9,321.8 100.9,326.9 173.7,338.4 176.2,346.0 190.3,357.5 185.2,366.5 191.6,371.6 190.3,375.4 236.2,389.2 240.0,394.3 240.0,399.4 259.2,410.9 252.8,422.4 264.3,437.7 241.3,445.4 289.8,468.3 284.7,486.2 292.4,502.8 287.3,515.6 306.4,516.1" fill="none" stroke="#00c000" stroke-width="3" stroke-linejoin="round" />
<polyline points="304.0,21.0 268.0,66.0 264.0,97.0 255.0,109.0 263.0,161.0 266.0,180.0 278.0,218.0 271.0,262.0 276.0,274.5 285.0,302.6 295.0,318.0 293.7,323.0 259.0,339.6 265.6,358.8 275.8,370.0 284.7,389.0 292.4,395.5 298.8,409.6 307.7,423.6 311.5,454.3 315.4,470.9 333.3,487.5 343.5,500.3 358.8,514.3 367.7,516.9" fill="none" stroke="#b00000" stroke-width="3" stroke-linejoin="round" />
<polyline points="315.4,492.6 324.3,515.6" fill="none" stroke="#d020d0" stroke-width="1.5" stroke-linejoin="round" stroke-dasharray="3,2"/>
<text x="302.0" y="531.0" font-size="11" fill="#00ff00" text-anchor="middle" >31</text>
<text x="333.0" y="531.0" font-size="11" fill="#20e0e0" text-anchor="middle" >42</text>
<text x="363.5" y="531.0" font-size="11" fill="#ff2020" text-anchor="middle" >53</text>
<rect x="315" y="341" width="46" height="22" fill="#000"/>
<line x1="332.50" y1="360.00" x2="332.50" y2="422.40" stroke="#e02020" stroke-width="2" />
<line x1="321.30" y1="360.00" x2="342.70" y2="360.00" stroke="#e02020" stroke-width="2" />
<line x1="321.30" y1="422.40" x2="342.70" y2="422.40" stroke="#e02020" stroke-width="2" />
<text x="316.7" y="353.0" font-size="11" fill="#ff2020" text-anchor="start" textLength="41.6" lengthAdjust="spacingAndGlyphs" >7.8 C/km</text>
<text x="466.0" y="344.5" font-size="11" fill="#2060ff" text-anchor="start" textLength="62" lengthAdjust="spacingAndGlyphs" >-30 C=23477'</text>
<line x1="466.00" y1="344.80" x2="488.00" y2="344.80" stroke="#1860ff" stroke-width="2.5" />
<text x="466.0" y="385.5" font-size="11" fill="#2060ff" text-anchor="start" textLength="62" lengthAdjust="spacingAndGlyphs" >-20 C=19189'</text>
<line x1="466.00" y1="386.50" x2="488.00" y2="386.50" stroke="#1860ff" stroke-width="2.5" />
<text x="466.0" y="481.3" font-size="11" fill="#2060ff" text-anchor="start" textLength="47.5" lengthAdjust="spacingAndGlyphs" >0 C=8777'</text>
<line x1="466.00" y1="481.70" x2="488.00" y2="481.70" stroke="#1860ff" stroke-width="2.5" />
<line x1="465.80" y1="462.50" x2="487.60" y2="462.50" stroke="#00e000" stroke-width="2.5" />
<text x="466.0" y="476.0" font-size="11" fill="#00e000" text-anchor="start" >LCL</text>
<path d="M558.0,84.7L540.6,102.7M540.6,102.7L533.9,95.3M543.5,99.7L536.8,92.2M546.4,96.7L539.8,89.2M549.4,93.6L546.0,89.9" stroke="#b8e000" stroke-width="1.3" fill="none"/>
<path d="M558.0,146.6L540.6,164.4M544.7,160.3L541.3,156.5" stroke="#ff4a00" stroke-width="1.3" fill="none"/>
<path d="M540.6,164.4L534.0,156.9L544.1,160.8Z" stroke="#ff4a00" stroke-width="1.3" fill="none" stroke-linejoin="round"/>
<path d="M559.0,193.6L540.6,212.0M544.7,207.9L538.1,200.4M547.7,204.9L541.1,197.4" stroke="#ff0000" stroke-width="1.3" fill="none"/>
<path d="M540.6,212.0L534.0,204.5L544.1,208.5Z" stroke="#ff0000" stroke-width="1.3" fill="none" stroke-linejoin="round"/>
<path d="M557.7,234.4L539.8,252.5M543.9,248.4L537.3,240.9M546.8,245.4L540.2,237.9M549.8,242.4L543.2,234.9M552.7,239.4L549.4,235.7" stroke="#ff0000" stroke-width="1.3" fill="none"/>
<path d="M539.8,252.5L533.2,245.0L543.3,248.9Z" stroke="#ff0000" stroke-width="1.3" fill="none" stroke-linejoin="round"/>
<path d="M558.0,268.3L540.6,286.3M544.6,282.1L537.9,274.7M547.6,279.1L540.9,271.7M550.5,276.1L547.1,272.4" stroke="#ff0000" stroke-width="1.3" fill="none"/>
<path d="M540.6,286.3L533.9,278.9L544.1,282.7Z" stroke="#ff0000" stroke-width="1.3" fill="none" stroke-linejoin="round"/>
<path d="M558.0,298.1L540.6,313.8M544.9,309.9L538.7,302.0M548.0,307.1L541.9,299.2M551.1,304.3L548.1,300.4" stroke="#ff0000" stroke-width="1.3" fill="none"/>
<path d="M540.6,313.8L534.4,305.9L544.3,310.5Z" stroke="#ff0000" stroke-width="1.3" fill="none" stroke-linejoin="round"/>
<path d="M558.0,324.0L540.6,339.4M544.9,335.6L541.9,331.6" stroke="#ff5000" stroke-width="1.3" fill="none"/>
<path d="M540.6,339.4L534.5,331.5L544.3,336.1Z" stroke="#ff5000" stroke-width="1.3" fill="none" stroke-linejoin="round"/>
<path d="M558.0,348.4L534.2,359.4M534.2,359.4L530.6,350.1M538.0,357.6L534.5,348.3M541.8,355.9L538.3,346.5M545.6,354.1L543.9,349.4" stroke="#d0e000" stroke-width="1.3" fill="none"/>
<path d="M558.0,369.6L535.4,383.6M535.4,383.6L530.7,374.8M539.0,381.4L534.3,372.5M542.5,379.2L537.9,370.3M546.1,377.0L543.8,372.5" stroke="#c0e800" stroke-width="1.3" fill="none"/>
<path d="M558.0,389.3L535.4,402.8M535.4,402.8L530.9,393.9M539.0,400.6L534.5,391.7M542.6,398.5L538.1,389.6M546.2,396.3L544.0,391.9" stroke="#a8e800" stroke-width="1.3" fill="none"/>
<path d="M558.0,406.6L535.4,421.2M535.4,421.2L530.6,412.4M538.9,418.9L534.1,410.2M542.5,416.6L537.6,407.9" stroke="#90e800" stroke-width="1.3" fill="none"/>
<path d="M557.9,424.1L535.7,439.1M535.7,439.1L530.7,430.4M539.2,436.7L534.2,428.1M542.7,434.4L537.7,425.7" stroke="#60f000" stroke-width="1.3" fill="none"/>
<path d="M557.9,439.8L533.7,448.5M533.7,448.5L531.0,438.9M537.7,447.1L534.9,437.5M541.6,445.7L540.2,440.8" stroke="#20f020" stroke-width="1.3" fill="none"/>
<path d="M557.9,454.3L534.1,462.0M534.1,462.0L531.7,452.3M538.1,460.7L535.7,451.0" stroke="#10e030" stroke-width="1.3" fill="none"/>
<path d="M557.9,468.4L534.7,478.0M534.7,478.0L531.5,468.5" stroke="#10e080" stroke-width="1.3" fill="none"/>
<polyline points="557.9,481.4 533.7,488.8" fill="none" stroke="#00e0e0" stroke-width="1.3" stroke-linejoin="round" />
<polyline points="533.7,483.0 531.5,488.0 533.7,490.0 538.0,491.0" fill="none" stroke="#00e0e0" stroke-width="1.3" stroke-linejoin="round" />
<polyline points="550.5,479.4 542.4,486.0" fill="none" stroke="#00e0e0" stroke-width="1.3" stroke-linejoin="round" />
<polyline points="557.9,494.1 533.7,488.1" fill="none" stroke="#00e0e0" stroke-width="1.3" stroke-linejoin="round" />
<polyline points="557.9,505.5 548.5,492.8" fill="none" stroke="#00e0e0" stroke-width="1.3" stroke-linejoin="round" />
<polyline points="557.9,516.2 543.1,495.5 548.5,492.5" fill="none" stroke="#00e0e0" stroke-width="1.3" stroke-linejoin="round" />
<line x1="31.00" y1="114.69" x2="37.00" y2="114.69" stroke="#a0a0a0" stroke-width="2" />
<line x1="584.00" y1="114.69" x2="590.00" y2="114.69" stroke="#a0a0a0" stroke-width="2" />
<line x1="31.00" y1="181.16" x2="37.00" y2="181.16" stroke="#a0a0a0" stroke-width="2" />
<line x1="584.00" y1="181.16" x2="590.00" y2="181.16" stroke="#a0a0a0" stroke-width="2" />
<line x1="31.00" y1="232.71" x2="37.00" y2="232.71" stroke="#a0a0a0" stroke-width="2" />
<line x1="584.00" y1="232.71" x2="590.00" y2="232.71" stroke="#a0a0a0" stroke-width="2" />
<line x1="31.00" y1="274.83" x2="37.00" y2="274.83" stroke="#a0a0a0" stroke-width="2" />
<line x1="584.00" y1="274.83" x2="590.00" y2="274.83" stroke="#a0a0a0" stroke-width="2" />
<line x1="31.00" y1="310.45" x2="37.00" y2="310.45" stroke="#a0a0a0" stroke-width="2" />
<line x1="584.00" y1="310.45" x2="590.00" y2="310.45" stroke="#a0a0a0" stroke-width="2" />
<line x1="31.00" y1="341.30" x2="37.00" y2="341.30" stroke="#a0a0a0" stroke-width="2" />
<line x1="584.00" y1="341.30" x2="590.00" y2="341.30" stroke="#a0a0a0" stroke-width="2" />
<line x1="31.00" y1="368.51" x2="37.00" y2="368.51" stroke="#a0a0a0" stroke-width="2" />
<line x1="584.00" y1="368.51" x2="590.00" y2="368.51" stroke="#a0a0a0" stroke-width="2" />
<line x1="31.00" y1="392.86" x2="37.00" y2="392.86" stroke="#a0a0a0" stroke-width="2" />
<line x1="584.00" y1="392.86" x2="590.00" y2="392.86" stroke="#a0a0a0" stroke-width="2" />
<line x1="31.00" y1="414.88" x2="37.00" y2="414.88" stroke="#a0a0a0" stroke-width="2" />
<line x1="584.00" y1="414.88" x2="590.00" y2="414.88" stroke="#a0a0a0" stroke-width="2" />
<line x1="31.00" y1="434.98" x2="37.00" y2="434.98" stroke="#a0a0a0" stroke-width="2" />
<line x1="584.00" y1="434.98" x2="590.00" y2="434.98" stroke="#a0a0a0" stroke-width="2" />
<line x1="31.00" y1="453.47" x2="37.00" y2="453.47" stroke="#a0a0a0" stroke-width="2" />
<line x1="584.00" y1="453.47" x2="590.00" y2="453.47" stroke="#a0a0a0" stroke-width="2" />
<line x1="31.00" y1="470.59" x2="37.00" y2="470.59" stroke="#a0a0a0" stroke-width="2" />
<line x1="584.00" y1="470.59" x2="590.00" y2="470.59" stroke="#a0a0a0" stroke-width="2" />
<line x1="31.00" y1="486.53" x2="37.00" y2="486.53" stroke="#a0a0a0" stroke-width="2" />
<line x1="584.00" y1="486.53" x2="590.00" y2="486.53" stroke="#a0a0a0" stroke-width="2" />
<line x1="31.00" y1="501.44" x2="37.00" y2="501.44" stroke="#a0a0a0" stroke-width="2" />
<line x1="584.00" y1="501.44" x2="590.00" y2="501.44" stroke="#a0a0a0" stroke-width="2" />
<line x1="31.00" y1="515.45" x2="37.00" y2="515.45" stroke="#a0a0a0" stroke-width="2" />
<line x1="584.00" y1="515.45" x2="590.00" y2="515.45" stroke="#a0a0a0" stroke-width="2" />
<line x1="31.00" y1="528.66" x2="37.00" y2="528.66" stroke="#a0a0a0" stroke-width="2" />
<line x1="584.00" y1="528.66" x2="590.00" y2="528.66" stroke="#a0a0a0" stroke-width="2" />
<line x1="31.00" y1="541.15" x2="37.00" y2="541.15" stroke="#a0a0a0" stroke-width="2" />
<line x1="584.00" y1="541.15" x2="590.00" y2="541.15" stroke="#a0a0a0" stroke-width="2" />
<line x1="31.00" y1="553.00" x2="37.00" y2="553.00" stroke="#a0a0a0" stroke-width="2" />
<line x1="584.00" y1="553.00" x2="590.00" y2="553.00" stroke="#a0a0a0" stroke-width="2" />
<line x1="590.50" y1="24.00" x2="590.50" y2="565.00" stroke="#6a4028" stroke-width="1" stroke-dasharray="4,2"/>
<line x1="598.00" y1="26.00" x2="598.00" y2="565.00" stroke="#6a4028" stroke-width="2" stroke-dasharray="4,2"/>
<line x1="607.00" y1="26.00" x2="607.00" y2="565.00" stroke="#6a4028" stroke-width="2" stroke-dasharray="4,2"/>
<line x1="615.80" y1="26.00" x2="615.80" y2="565.00" stroke="#6a4028" stroke-width="2" stroke-dasharray="4,2"/>
<line x1="624.20" y1="26.00" x2="624.20" y2="565.00" stroke="#6a4028" stroke-width="2" stroke-dasharray="4,2"/>
<line x1="633.00" y1="26.00" x2="633.00" y2="565.00" stroke="#6a4028" stroke-width="2" stroke-dasharray="4,2"/>
<line x1="642.00" y1="26.00" x2="642.00" y2="565.00" stroke="#6a4028" stroke-width="2" stroke-dasharray="4,2"/>
<rect x="590" y="24.0" width="8.0" height="1" fill="#00e5ff"/>
<rect x="590" y="68.2" width="16.6" height="2" fill="#00e5ff"/>
<rect x="590" y="87.6" width="17.0" height="4" fill="#00e5ff"/>
<rect x="590" y="99.9" width="20.0" height="2" fill="#00e5ff"/>
<rect x="590" y="103.0" width="20.0" height="2" fill="#00e5ff"/>
<rect x="590" y="106.0" width="20.0" height="2" fill="#00e5ff"/>
<rect x="590" y="109.7" width="21.0" height="2" fill="#00e5ff"/>
<rect x="590" y="115.7" width="23.0" height="3" fill="#00e5ff"/>
<rect x="590" y="162.3" width="26.8" height="2" fill="#00e5ff"/>
<rect x="590" y="165.3" width="26.8" height="2" fill="#00e5ff"/>
<rect x="590" y="173.5" width="27.8" height="2" fill="#00e5ff"/>
<rect x="590" y="181.9" width="29.9" height="2" fill="#00e5ff"/>
<rect x="590" y="217.0" width="34.0" height="2" fill="#00e5ff"/>
<rect x="590" y="233.0" width="36.6" height="4" fill="#00e5ff"/>
<rect x="590" y="238.5" width="35.0" height="2" fill="#ffee00"/>
<rect x="590" y="242.0" width="34.0" height="2" fill="#ffee00"/>
<rect x="590" y="247.8" width="34.0" height="3" fill="#ffee00"/>
<rect x="590" y="256.0" width="33.0" height="2" fill="#ffee00"/>
<rect x="590" y="258.5" width="33.0" height="3" fill="#ffee00"/>
<rect x="590" y="269.8" width="33.0" height="2" fill="#ffee00"/>
<rect x="590" y="274.7" width="34.0" height="2" fill="#ffee00"/>
<rect x="590" y="278.0" width="33.0" height="2" fill="#ffee00"/>
<rect x="590" y="293.7" width="35.0" height="2" fill="#ffee00"/>
<rect x="590" y="298.5" width="35.0" height="5" fill="#ffee00"/>
<rect x="590" y="315.2" width="33.0" height="2" fill="#ffee00"/>
<rect x="590" y="322.0" width="29.0" height="2" fill="#ffee00"/>
<rect x="590" y="327.0" width="24.0" height="2" fill="#ffee00"/>
<rect x="590" y="339.0" width="17.6" height="4" fill="#00e000"/>
<rect x="590" y="348.0" width="17.0" height="2" fill="#00e000"/>
<rect x="590" y="357.7" width="15.0" height="2" fill="#00e000"/>
<rect x="590" y="367.0" width="15.0" height="2" fill="#00e000"/>
<rect x="590" y="372.0" width="16.0" height="4" fill="#00e000"/>
<rect x="590" y="389.0" width="15.0" height="2" fill="#00e000"/>
<rect x="590" y="393.0" width="15.0" height="2" fill="#00e000"/>
<rect x="590" y="397.0" width="15.0" height="2" fill="#00e000"/>
<rect x="590" y="401.0" width="15.0" height="2" fill="#00e000"/>
<rect x="590" y="411.0" width="14.0" height="2" fill="#00e000"/>
<rect x="590" y="421.0" width="13.0" height="2" fill="#00e000"/>
<rect x="590" y="428.0" width="12.0" height="2" fill="#00e000"/>
<rect x="590" y="437.0" width="11.0" height="2" fill="#ff1010"/>
<rect x="590" y="444.0" width="10.0" height="4" fill="#ff1010"/>
<rect x="590" y="468.5" width="6.0" height="3" fill="#ff1010"/>
<rect x="590" y="489.7" width="2.0" height="2" fill="#ff10ff"/>
<rect x="590" y="502.0" width="4.0" height="2" fill="#ff10ff"/>
<rect x="590" y="513.5" width="3.0" height="3" fill="#ff10ff"/>
<line x1="589.00" y1="24.00" x2="651.00" y2="24.00" stroke="#fff" stroke-width="1.5" />
<line x1="651.00" y1="23.00" x2="651.00" y2="566.00" stroke="#fff" stroke-width="2" />
<text x="593.0" y="34.2" font-size="9" fill="#fff" text-anchor="start" textLength="44.5" lengthAdjust="spacingAndGlyphs" >Wind Speed</text>
<text x="593.0" y="44.2" font-size="9" fill="#fff" text-anchor="start" textLength="27" lengthAdjust="spacingAndGlyphs" >(knots)</text>
<text x="605.2" y="579.0" font-size="11" fill="#fff" text-anchor="middle" >40</text>
<text x="623.5" y="579.0" font-size="11" fill="#fff" text-anchor="middle" >80</text>
<text x="641.0" y="579.0" font-size="11" fill="#fff" text-anchor="middle" >120</text>
<line x1="651.00" y1="24.00" x2="691.00" y2="24.00" stroke="#fff" stroke-width="1.5" />
<line x1="692.00" y1="23.00" x2="692.00" y2="566.00" stroke="#fff" stroke-width="2" />
<line x1="589.00" y1="565.00" x2="693.00" y2="565.00" stroke="#fff" stroke-width="2" />
<line x1="671.00" y1="26.00" x2="671.00" y2="565.00" stroke="#909090" stroke-width="1.6" stroke-dasharray="3,2"/>
<text x="653.0" y="34.2" font-size="9" fill="#fff" text-anchor="start" textLength="35" lengthAdjust="spacingAndGlyphs" >Inf. Temp.</text>
<text x="653.0" y="44.2" font-size="9" fill="#fff" text-anchor="start" textLength="31" lengthAdjust="spacingAndGlyphs" >Adv. (C/</text>
<text x="653.0" y="54.2" font-size="9" fill="#fff" text-anchor="start" textLength="11" lengthAdjust="spacingAndGlyphs" >hr)</text>
<line x1="672.00" y1="120.00" x2="672.00" y2="236.00" stroke="#ff1010" stroke-width="2" />
<rect x="667.5" y="236" width="4" height="78" fill="none" stroke="#3a9ad9" stroke-width="1" />
<line x1="672.00" y1="314.00" x2="672.00" y2="372.00" stroke="#3a9ad9" stroke-width="1.5" />
<line x1="672.00" y1="372.00" x2="672.00" y2="418.00" stroke="#ff1010" stroke-width="1.5" />
<rect x="670" y="418" width="3" height="38" fill="none" stroke="#3a9ad9" stroke-width="1"/>
<line x1="672.00" y1="456.00" x2="672.00" y2="488.00" stroke="#ff1010" stroke-width="1.5" />
<line x1="672.00" y1="488.00" x2="672.00" y2="516.50" stroke="#3a9ad9" stroke-width="2.5" />
<text x="675.0" y="185.5" font-size="9" fill="#ff1010" text-anchor="start" >0.7</text>
<text x="675.0" y="401.2" font-size="9" fill="#ff1010" text-anchor="start" >0.3</text>
<text x="675.0" y="478.2" font-size="9" fill="#ff1010" text-anchor="start" >0.1</text>
<text x="668.0" y="283.0" font-size="9" fill="#3a9ad9" text-anchor="end" >-2.7</text>
<text x="668.0" y="349.2" font-size="9" fill="#3a9ad9" text-anchor="end" >-0.2</text>
<text x="668.0" y="443.7" font-size="9" fill="#3a9ad9" text-anchor="end" >-1.4</text>
<text x="668.0" y="509.2" font-size="9" fill="#3a9ad9" text-anchor="end" >-0.4</text>
<g clip-path="url(#hodo)">
<circle cx="935.2" cy="227.75" r="30.4" fill="none" stroke="#6a6a6a" stroke-width="1" stroke-dasharray="4,2.5"/>
<circle cx="935.2" cy="227.75" r="60.8" fill="none" stroke="#6a6a6a" stroke-width="1" stroke-dasharray="4,2.5"/>
<circle cx="935.2" cy="227.75" r="91.3" fill="none" stroke="#6a6a6a" stroke-width="1" stroke-dasharray="4,2.5"/>
<circle cx="935.2" cy="227.75" r="121.7" fill="none" stroke="#6a6a6a" stroke-width="1" stroke-dasharray="4,2.5"/>
<circle cx="935.2" cy="227.75" r="152.1" fill="none" stroke="#6a6a6a" stroke-width="1" stroke-dasharray="4,2.5"/>
<circle cx="935.2" cy="227.75" r="182.5" fill="none" stroke="#6a6a6a" stroke-width="1" stroke-dasharray="4,2.5"/>
<circle cx="935.2" cy="227.75" r="212.9" fill="none" stroke="#6a6a6a" stroke-width="1" stroke-dasharray="4,2.5"/>
<circle cx="935.2" cy="227.75" r="243.4" fill="none" stroke="#6a6a6a" stroke-width="1" stroke-dasharray="4,2.5"/>
<circle cx="935.2" cy="227.75" r="273.8" fill="none" stroke="#6a6a6a" stroke-width="1" stroke-dasharray="4,2.5"/>
<circle cx="935.2" cy="227.75" r="304.2" fill="none" stroke="#6a6a6a" stroke-width="1" stroke-dasharray="4,2.5"/>
<circle cx="935.2" cy="227.75" r="334.6" fill="none" stroke="#6a6a6a" stroke-width="1" stroke-dasharray="4,2.5"/>
<circle cx="935.2" cy="227.75" r="365.0" fill="none" stroke="#6a6a6a" stroke-width="1" stroke-dasharray="4,2.5"/>
<line x1="692.00" y1="227.75" x2="1180.00" y2="227.75" stroke="#505050" stroke-width="2" stroke-dasharray="4,2.5"/>
<line x1="935.20" y1="24.00" x2="935.20" y2="431.00" stroke="#505050" stroke-width="2" stroke-dasharray="4,2.5"/>
<text x="967.4" y="245.0" font-size="11" fill="#fff" text-anchor="middle" >10</text>
<text x="906.3" y="245.0" font-size="11" fill="#fff" text-anchor="middle" >10</text>
<text x="997.8" y="245.0" font-size="11" fill="#fff" text-anchor="middle" >20</text>
<text x="875.9" y="245.0" font-size="11" fill="#fff" text-anchor="middle" >20</text>
<text x="1028.3" y="245.0" font-size="11" fill="#fff" text-anchor="middle" >30</text>
<text x="845.4" y="245.0" font-size="11" fill="#fff" text-anchor="middle" >30</text>
<text x="1058.7" y="245.0" font-size="11" fill="#fff" text-anchor="middle" >40</text>
<text x="815.0" y="245.0" font-size="11" fill="#fff" text-anchor="middle" >40</text>
<text x="1089.1" y="245.0" font-size="11" fill="#fff" text-anchor="middle" >50</text>
<text x="784.6" y="245.0" font-size="11" fill="#fff" text-anchor="middle" >50</text>
<text x="1119.5" y="245.0" font-size="11" fill="#fff" text-anchor="middle" >60</text>
<text x="754.2" y="245.0" font-size="11" fill="#fff" text-anchor="middle" >60</text>
<text x="1149.9" y="245.0" font-size="11" fill="#fff" text-anchor="middle" >70</text>
<text x="723.8" y="245.0" font-size="11" fill="#fff" text-anchor="middle" >70</text>
<text x="1180.4" y="245.0" font-size="11" fill="#fff" text-anchor="middle" >80</text>
<text x="693.3" y="245.0" font-size="11" fill="#fff" text-anchor="middle" >80</text>
<text x="947.5" y="204.1" font-size="11" fill="#fff" text-anchor="middle" >10</text>
<text x="947.5" y="264.9" font-size="11" fill="#fff" text-anchor="middle" >10</text>
<text x="947.5" y="173.7" font-size="11" fill="#fff" text-anchor="middle" >20</text>
<text x="947.5" y="295.3" font-size="11" fill="#fff" text-anchor="middle" >20</text>
<text x="947.5" y="143.3" font-size="11" fill="#fff" text-anchor="middle" >30</text>
<text x="947.5" y="325.8" font-size="11" fill="#fff" text-anchor="middle" >30</text>
<text x="947.5" y="112.8" font-size="11" fill="#fff" text-anchor="middle" >40</text>
<text x="947.5" y="356.2" font-size="11" fill="#fff" text-anchor="middle" >40</text>
<text x="947.5" y="82.4" font-size="11" fill="#fff" text-anchor="middle" >50</text>
<text x="947.5" y="386.6" font-size="11" fill="#fff" text-anchor="middle" >50</text>
<text x="947.5" y="52.0" font-size="11" fill="#fff" text-anchor="middle" >60</text>
<text x="947.5" y="417.0" font-size="11" fill="#fff" text-anchor="middle" >60</text>
</g>
<line x1="691.00" y1="24.50" x2="1179.00" y2="24.50" stroke="#fff" stroke-width="1.3" />
<line x1="692.00" y1="24.00" x2="692.00" y2="433.00" stroke="#fff" stroke-width="2" />
<line x1="1178.50" y1="24.00" x2="1178.50" y2="433.00" stroke="#fff" stroke-width="1.3" />
<polyline points="944.8,240.2 942.8,244.0 950.9,247.1 947.1,225.8 945.6,222.0" fill="none" stroke="#ff10ff" stroke-width="2.5" stroke-linejoin="round" />
<polyline points="945.6,222.0 966.9,216.6 968.5,212.8 997.5,211.3 1003.2,201.4 1002.8,184.0" fill="none" stroke="#ff0000" stroke-width="2.5" stroke-linejoin="round" />
<polyline points="1002.8,184.0 1002.8,171.0 1004.6,169.8 1012.9,168.0 1014.0,165.1 1018.2,166.9 1021.2,165.1 1023.5,162.7 1021.2,168.6 1028.3,173.4 1037.8,175.8 1038.4,172.2 1034.8,158.0 1042.5,151.4" fill="none" stroke="#00ee00" stroke-width="2.5" stroke-linejoin="round" />
<polyline points="1042.5,151.4 1066.3,131.3 1070.5,124.7 1089.4,103.4 1114.7,93.0 1125.1,85.6 1125.3,79.3 1121.8,75.8 1106.1,74.7 1107.8,83.3 1100.9,62.6 1106.1,80.4 1090.6,48.8 1093.4,46.5 1100.9,47.1" fill="none" stroke="#ffee00" stroke-width="2.5" stroke-linejoin="round" />
<polyline points="1100.9,47.1 1113.6,49.4 1107.8,55.7 1096.3,61.4 1082.0,81.0 1068.7,85.0 1058.4,91.3 1050.9,94.8 1053.8,114.3" fill="none" stroke="#00e5ff" stroke-width="2.5" stroke-linejoin="round" />
<circle cx="1066.3" cy="130.4" r="3.2" fill="none" stroke="#fff" stroke-width="1.3"/>
<text x="1070.4" y="143.2" font-size="11" fill="#fff" text-anchor="start" textLength="55" lengthAdjust="spacingAndGlyphs" >DN=233/54</text>
<circle cx="994.1" cy="176.3" r="3.2" fill="none" stroke="#fff" stroke-width="1.3"/>
<circle cx="959.5" cy="166.3" r="3.2" fill="none" stroke="#1a6aaa" stroke-width="1.5"/>
<text x="963.0" y="181.9" font-size="11" fill="#1a9ad9" text-anchor="start" textLength="31" lengthAdjust="spacingAndGlyphs" >201/22</text>
<text x="1000.0" y="181.9" font-size="11" fill="#1a9ad9" text-anchor="start" textLength="12" lengthAdjust="spacingAndGlyphs" >LM</text>
<rect x="1016.4" y="168.6" width="8.9" height="8.9" fill="none" stroke="#d08a10" stroke-width="2" />
<text x="1025.9" y="179.8" font-size="11" fill="#d08a10" text-anchor="start" textLength="32" lengthAdjust="spacingAndGlyphs" >234/35</text>
<text x="998.9" y="188.0" font-size="11" fill="#fff" text-anchor="start" textLength="51.3" lengthAdjust="spacingAndGlyphs" >UP=229/26</text>
<circle cx="1018.8" cy="232.3" r="3.5" fill="none" stroke="#e05050" stroke-width="1.3"/>
<text x="1022.0" y="246.8" font-size="11" fill="#f06060" text-anchor="start" textLength="51" lengthAdjust="spacingAndGlyphs" >273/27 RM</text>
<line x1="691.00" y1="432.00" x2="1179.00" y2="432.00" stroke="#fff" stroke-width="2" />
<line x1="691.00" y1="565.00" x2="1179.00" y2="565.00" stroke="#fff" stroke-width="2" />
<line x1="692.00" y1="431.00" x2="692.00" y2="566.00" stroke="#fff" stroke-width="2" />
<line x1="1178.00" y1="431.00" x2="1178.00" y2="566.00" stroke="#fff" stroke-width="2" />
<line x1="813.00" y1="431.00" x2="813.00" y2="566.00" stroke="#fff" stroke-width="2" />
<line x1="935.00" y1="431.00" x2="935.00" y2="566.00" stroke="#fff" stroke-width="2" />
<line x1="1057.00" y1="431.00" x2="1057.00" y2="566.00" stroke="#fff" stroke-width="2" />
<line x1="752.00" y1="433.50" x2="752.00" y2="564.00" stroke="#1a4a8a" stroke-width="2" />
<line x1="693.00" y1="498.00" x2="812.00" y2="498.00" stroke="#1a4a8a" stroke-width="2" />
<polygon points="752,497 783,498.5 783,500.5 752,499" fill="#fff"/>
<text x="806.5" y="444.3" font-size="11" fill="#fff" text-anchor="end" textLength="27.5" lengthAdjust="spacingAndGlyphs" >-- deg</text>
<text x="697.4" y="562.0" font-size="11" fill="#fff" text-anchor="start" textLength="58" lengthAdjust="spacingAndGlyphs" >Storm Slinky</text>
<line x1="814.00" y1="452.50" x2="818.00" y2="452.50" stroke="#fff" stroke-width="1.5" />
<line x1="930.00" y1="452.50" x2="934.00" y2="452.50" stroke="#fff" stroke-width="1.5" />
<text x="819.0" y="455.7" font-size="9" fill="#fff" text-anchor="start" textLength="14" lengthAdjust="spacingAndGlyphs" >500</text>
<line x1="814.00" y1="473.70" x2="818.00" y2="473.70" stroke="#fff" stroke-width="1.5" />
<line x1="930.00" y1="473.70" x2="934.00" y2="473.70" stroke="#fff" stroke-width="1.5" />
<text x="819.0" y="476.9" font-size="9" fill="#fff" text-anchor="start" textLength="14" lengthAdjust="spacingAndGlyphs" >600</text>
<line x1="814.00" y1="494.50" x2="818.00" y2="494.50" stroke="#fff" stroke-width="1.5" />
<line x1="930.00" y1="494.50" x2="934.00" y2="494.50" stroke="#fff" stroke-width="1.5" />
<text x="819.0" y="497.7" font-size="9" fill="#fff" text-anchor="start" textLength="14" lengthAdjust="spacingAndGlyphs" >700</text>
<line x1="814.00" y1="516.50" x2="818.00" y2="516.50" stroke="#fff" stroke-width="1.5" />
<line x1="930.00" y1="516.50" x2="934.00" y2="516.50" stroke="#fff" stroke-width="1.5" />
<text x="819.0" y="519.7" font-size="9" fill="#fff" text-anchor="start" textLength="14" lengthAdjust="spacingAndGlyphs" >800</text>
<line x1="814.00" y1="537.70" x2="818.00" y2="537.70" stroke="#fff" stroke-width="1.5" />
<line x1="930.00" y1="537.70" x2="934.00" y2="537.70" stroke="#fff" stroke-width="1.5" />
<text x="819.0" y="540.9" font-size="9" fill="#fff" text-anchor="start" textLength="14" lengthAdjust="spacingAndGlyphs" >900</text>
<line x1="814.00" y1="558.90" x2="818.00" y2="558.90" stroke="#fff" stroke-width="1.5" />
<line x1="930.00" y1="558.90" x2="934.00" y2="558.90" stroke="#fff" stroke-width="1.5" />
<text x="819.0" y="562.1" font-size="9" fill="#fff" text-anchor="start" textLength="19" lengthAdjust="spacingAndGlyphs" >1000</text>
<line x1="825.00" y1="433.00" x2="825.00" y2="437.00" stroke="#fff" stroke-width="1.5" />
<line x1="825.00" y1="560.00" x2="825.00" y2="564.00" stroke="#fff" stroke-width="1.5" />
<text x="825.0" y="557.9" font-size="9" fill="#fff" text-anchor="middle" textLength="14" lengthAdjust="spacingAndGlyphs" >300</text>
<line x1="873.00" y1="433.00" x2="873.00" y2="437.00" stroke="#fff" stroke-width="1.5" />
<line x1="873.00" y1="560.00" x2="873.00" y2="564.00" stroke="#fff" stroke-width="1.5" />
<text x="873.0" y="557.9" font-size="9" fill="#fff" text-anchor="middle" textLength="14" lengthAdjust="spacingAndGlyphs" >310</text>
<line x1="920.50" y1="433.00" x2="920.50" y2="437.00" stroke="#fff" stroke-width="1.5" />
<line x1="920.50" y1="560.00" x2="920.50" y2="564.00" stroke="#fff" stroke-width="1.5" />
<text x="920.5" y="557.9" font-size="9" fill="#fff" text-anchor="middle" textLength="14" lengthAdjust="spacingAndGlyphs" >320</text>
<polyline points="899.7,433.0 893.0,437.7 893.6,444.0 892.0,448.3 893.8,452.5 891.3,462.0 877.5,475.8 859.5,479.7 866.5,493.2 862.0,494.9 862.0,505.5 865.8,516.1 865.4,526.7 886.6,528.2" fill="none" stroke="#ffee00" stroke-width="2.5" stroke-linejoin="round" />
<text x="872.6" y="465.2" font-size="9" fill="#fff" text-anchor="middle" textLength="29" lengthAdjust="spacingAndGlyphs" >Theta-E</text>
<text x="872.6" y="475.9" font-size="9" fill="#fff" text-anchor="middle" >v.</text>
<text x="872.6" y="485.0" font-size="9" fill="#fff" text-anchor="middle" textLength="16" lengthAdjust="spacingAndGlyphs" >Pres</text>
<text x="951.0" y="449.8" font-size="10" fill="#fff" text-anchor="middle" >14</text>
<text x="951.0" y="466.9" font-size="10" fill="#fff" text-anchor="middle" >12</text>
<text x="951.0" y="482.4" font-size="10" fill="#fff" text-anchor="middle" >10</text>
<text x="951.0" y="499.6" font-size="10" fill="#fff" text-anchor="middle" >8</text>
<text x="951.0" y="516.4" font-size="10" fill="#fff" text-anchor="middle" >6</text>
<text x="951.0" y="532.4" font-size="10" fill="#fff" text-anchor="middle" >4</text>
<text x="951.0" y="549.4" font-size="10" fill="#fff" text-anchor="middle" >2</text>
<line x1="937.00" y1="446.20" x2="941.00" y2="446.20" stroke="#909090" stroke-width="1.5" />
<line x1="1051.00" y1="446.20" x2="1055.00" y2="446.20" stroke="#909090" stroke-width="1.5" />
<line x1="937.00" y1="455.00" x2="941.00" y2="455.00" stroke="#909090" stroke-width="1.5" />
<line x1="1051.00" y1="455.00" x2="1055.00" y2="455.00" stroke="#909090" stroke-width="1.5" />
<line x1="937.00" y1="463.30" x2="941.00" y2="463.30" stroke="#909090" stroke-width="1.5" />
<line x1="1051.00" y1="463.30" x2="1055.00" y2="463.30" stroke="#909090" stroke-width="1.5" />
<line x1="937.00" y1="471.00" x2="941.00" y2="471.00" stroke="#909090" stroke-width="1.5" />
<line x1="1051.00" y1="471.00" x2="1055.00" y2="471.00" stroke="#909090" stroke-width="1.5" />
<line x1="937.00" y1="478.80" x2="941.00" y2="478.80" stroke="#909090" stroke-width="1.5" />
<line x1="1051.00" y1="478.80" x2="1055.00" y2="478.80" stroke="#909090" stroke-width="1.5" />
<line x1="937.00" y1="487.00" x2="941.00" y2="487.00" stroke="#909090" stroke-width="1.5" />
<line x1="1051.00" y1="487.00" x2="1055.00" y2="487.00" stroke="#909090" stroke-width="1.5" />
<line x1="937.00" y1="496.00" x2="941.00" y2="496.00" stroke="#909090" stroke-width="1.5" />
<line x1="1051.00" y1="496.00" x2="1055.00" y2="496.00" stroke="#909090" stroke-width="1.5" />
<line x1="937.00" y1="504.00" x2="941.00" y2="504.00" stroke="#909090" stroke-width="1.5" />
<line x1="1051.00" y1="504.00" x2="1055.00" y2="504.00" stroke="#909090" stroke-width="1.5" />
<line x1="937.00" y1="512.80" x2="941.00" y2="512.80" stroke="#909090" stroke-width="1.5" />
<line x1="1051.00" y1="512.80" x2="1055.00" y2="512.80" stroke="#909090" stroke-width="1.5" />
<line x1="937.00" y1="521.00" x2="941.00" y2="521.00" stroke="#909090" stroke-width="1.5" />
<line x1="1051.00" y1="521.00" x2="1055.00" y2="521.00" stroke="#909090" stroke-width="1.5" />
<line x1="937.00" y1="528.80" x2="941.00" y2="528.80" stroke="#909090" stroke-width="1.5" />
<line x1="1051.00" y1="528.80" x2="1055.00" y2="528.80" stroke="#909090" stroke-width="1.5" />
<line x1="937.00" y1="537.00" x2="941.00" y2="537.00" stroke="#909090" stroke-width="1.5" />
<line x1="1051.00" y1="537.00" x2="1055.00" y2="537.00" stroke="#909090" stroke-width="1.5" />
<line x1="937.00" y1="545.80" x2="941.00" y2="545.80" stroke="#909090" stroke-width="1.5" />
<line x1="1051.00" y1="545.80" x2="1055.00" y2="545.80" stroke="#909090" stroke-width="1.5" />
<line x1="937.00" y1="554.00" x2="941.00" y2="554.00" stroke="#909090" stroke-width="1.5" />
<line x1="1051.00" y1="554.00" x2="1055.00" y2="554.00" stroke="#909090" stroke-width="1.5" />
<line x1="951.20" y1="434.00" x2="951.20" y2="438.00" stroke="#909090" stroke-width="1.5" />
<line x1="951.20" y1="560.00" x2="951.20" y2="564.00" stroke="#909090" stroke-width="1.5" />
<line x1="967.00" y1="434.00" x2="967.00" y2="438.00" stroke="#909090" stroke-width="1.5" />
<line x1="967.00" y1="560.00" x2="967.00" y2="564.00" stroke="#909090" stroke-width="1.5" />
<line x1="984.00" y1="434.00" x2="984.00" y2="438.00" stroke="#909090" stroke-width="1.5" />
<line x1="984.00" y1="560.00" x2="984.00" y2="564.00" stroke="#909090" stroke-width="1.5" />
<line x1="1001.00" y1="434.00" x2="1001.00" y2="438.00" stroke="#909090" stroke-width="1.5" />
<line x1="1001.00" y1="560.00" x2="1001.00" y2="564.00" stroke="#909090" stroke-width="1.5" />
<line x1="1017.00" y1="434.00" x2="1017.00" y2="438.00" stroke="#909090" stroke-width="1.5" />
<line x1="1017.00" y1="560.00" x2="1017.00" y2="564.00" stroke="#909090" stroke-width="1.5" />
<line x1="1033.80" y1="434.00" x2="1033.80" y2="438.00" stroke="#909090" stroke-width="1.5" />
<line x1="1033.80" y1="560.00" x2="1033.80" y2="564.00" stroke="#909090" stroke-width="1.5" />
<line x1="1050.80" y1="434.00" x2="1050.80" y2="438.00" stroke="#909090" stroke-width="1.5" />
<line x1="1050.80" y1="560.00" x2="1050.80" y2="564.00" stroke="#909090" stroke-width="1.5" />
<line x1="958.60" y1="434.00" x2="958.60" y2="564.00" stroke="#a0a0a0" stroke-width="1.5" stroke-dasharray="3,2"/>
<line x1="1001.00" y1="434.00" x2="1001.00" y2="495.00" stroke="#8a2a9a" stroke-width="2" stroke-dasharray="3,2"/>
<line x1="1050.80" y1="434.00" x2="1050.80" y2="495.00" stroke="#8a2a9a" stroke-width="2" stroke-dasharray="3,2"/>
<text x="1021.5" y="456.8" font-size="9" fill="#b828e0" text-anchor="middle" textLength="27" lengthAdjust="spacingAndGlyphs" >Classic</text>
<text x="1021.5" y="466.8" font-size="9" fill="#b828e0" text-anchor="middle" textLength="33" lengthAdjust="spacingAndGlyphs" >Supercell</text>
<text x="973.4" y="448.2" font-size="9" fill="#fff" text-anchor="middle" textLength="31" lengthAdjust="spacingAndGlyphs" >SR Wind</text>
<text x="973.4" y="458.7" font-size="9" fill="#fff" text-anchor="middle" >v.</text>
<text x="973.4" y="467.7" font-size="9" fill="#fff" text-anchor="middle" textLength="26" lengthAdjust="spacingAndGlyphs" >Height</text>
<polyline points="985.1,442.0 993.1,447.2 979.8,453.6 980.8,455.7 996.7,460.0 1014.7,469.5 1036.0,479.7 1046.5,486.9 1030.6,493.2 1037.0,497.0 1033.8,499.2 1036.0,503.4 1023.2,507.6 999.9,509.7 970.3,513.6 970.3,520.3 973.4,523.5 970.3,526.7 970.3,533.0 951.2,541.1 958.6,544.7 974.5,553.2 972.4,555.3 976.6,562.3" fill="none" stroke="#ff1010" stroke-width="1.7" stroke-linejoin="round" />
<line x1="1033.20" y1="470.60" x2="1033.20" y2="488.60" stroke="#a010e0" stroke-width="2" />
<line x1="969.80" y1="512.30" x2="969.80" y2="529.20" stroke="#5090e0" stroke-width="2" />
<line x1="969.80" y1="544.70" x2="969.80" y2="564.00" stroke="#901010" stroke-width="2" />
<line x1="1057.00" y1="452.00" x2="1178.00" y2="452.00" stroke="#fff" stroke-width="2" />
<text x="1117.5" y="447.0" font-size="11" fill="#fff" text-anchor="middle" textLength="99.6" lengthAdjust="spacingAndGlyphs" >Potential Hazard Type</text>
<text x="1117.5" y="509.4" font-size="16" fill="#f0b030" text-anchor="middle" textLength="39" lengthAdjust="spacingAndGlyphs" >NONE</text>
<rect x="2.5" y="588.5" width="1175.5" height="192.5" fill="none" stroke="#3a9fd8" stroke-width="3" />
<line x1="297.50" y1="590.00" x2="297.50" y2="780.00" stroke="#3a9fd8" stroke-width="1" />
<line x1="590.50" y1="590.00" x2="590.50" y2="780.00" stroke="#3a9fd8" stroke-width="1" />
<line x1="884.50" y1="590.00" x2="884.50" y2="780.00" stroke="#3a9fd8" stroke-width="1" />
<line x1="4.00" y1="601.50" x2="297.00" y2="601.50" stroke="#fff" stroke-width="1" />
<line x1="4.00" y1="652.50" x2="297.00" y2="652.50" stroke="#fff" stroke-width="1" />
<line x1="4.00" y1="722.50" x2="297.00" y2="722.50" stroke="#fff" stroke-width="1" />
<line x1="204.50" y1="723.00" x2="204.50" y2="780.00" stroke="#fff" stroke-width="1" />
<rect x="6.5" y="627.5" width="290" height="12" fill="none" stroke="#7a4a20" stroke-width="1" />
<text x="40.2" y="600.6" font-size="10" fill="#fff" text-anchor="middle" >PCL</text>
<text x="76.5" y="600.6" font-size="10" fill="#fff" text-anchor="middle" >CAPE</text>
<text x="112.8" y="600.6" font-size="10" fill="#fff" text-anchor="middle" >CINH</text>
<text x="149.9" y="600.6" font-size="10" fill="#fff" text-anchor="middle" >LCL</text>
<text x="186.2" y="600.6" font-size="10" fill="#fff" text-anchor="middle" >LI</text>
<text x="222.5" y="600.6" font-size="10" fill="#fff" text-anchor="middle" >LFC</text>
<text x="259.3" y="600.6" font-size="10" fill="#fff" text-anchor="middle" >EL</text>
<text x="40.2" y="615.6" font-size="10" fill="#fff" text-anchor="middle" >SFC</text>
<text x="76.5" y="615.6" font-size="10" fill="#fff" text-anchor="middle" >2</text>
<text x="112.8" y="615.6" font-size="10" fill="#fff" text-anchor="middle" >-149</text>
<text x="149.9" y="615.6" font-size="10" fill="#fff" text-anchor="middle" >1505</text>
<text x="186.2" y="615.6" font-size="10" fill="#fff" text-anchor="middle" >3</text>
<text x="222.5" y="615.6" font-size="10" fill="#fff" text-anchor="middle" >1505</text>
<text x="259.3" y="615.6" font-size="10" fill="#fff" text-anchor="middle" >1981</text>
<text x="40.2" y="626.5" font-size="10" fill="#fff" text-anchor="middle" >EFF</text>
<text x="76.5" y="626.5" font-size="10" fill="#fff" text-anchor="middle" >2</text>
<text x="112.8" y="626.5" font-size="10" fill="#fff" text-anchor="middle" >-149</text>
<text x="149.9" y="626.5" font-size="10" fill="#fff" text-anchor="middle" >1505</text>
<text x="186.2" y="626.5" font-size="10" fill="#fff" text-anchor="middle" >3</text>
<text x="222.5" y="626.5" font-size="10" fill="#fff" text-anchor="middle" >1505</text>
<text x="259.3" y="626.5" font-size="10" fill="#fff" text-anchor="middle" >1981</text>
<text x="40.2" y="637.4" font-size="10" fill="#00e5ff" text-anchor="middle" >ML</text>
<text x="76.5" y="637.4" font-size="10" fill="#fff" text-anchor="middle" >0</text>
<text x="112.8" y="637.4" font-size="10" fill="#fff" text-anchor="middle" >0</text>
<text x="149.9" y="637.4" font-size="10" fill="#fff" text-anchor="middle" >1868</text>
<text x="186.2" y="637.4" font-size="10" fill="#fff" text-anchor="middle" >6</text>
<text x="222.5" y="637.4" font-size="10" fill="#fff" text-anchor="middle" >--</text>
<text x="259.3" y="637.4" font-size="10" fill="#fff" text-anchor="middle" >1868</text>
<text x="40.2" y="648.3" font-size="10" fill="#fff" text-anchor="middle" >MU</text>
<text x="76.5" y="648.3" font-size="10" fill="#fff" text-anchor="middle" >0</text>
<text x="112.8" y="648.3" font-size="10" fill="#fff" text-anchor="middle" >0</text>
<text x="149.9" y="648.3" font-size="10" fill="#fff" text-anchor="middle" >4598</text>
<text x="186.2" y="648.3" font-size="10" fill="#fff" text-anchor="middle" >3</text>
<text x="222.5" y="648.3" font-size="10" fill="#fff" text-anchor="middle" >--</text>
<text x="259.3" y="648.3" font-size="10" fill="#fff" text-anchor="middle" >4598</text>
<text x="9.6" y="664.8" font-size="10" fill="#fff" text-anchor="start" >PW = 0.31in</text>
<text x="106.3" y="664.8" font-size="10" fill="#fff" text-anchor="start" >K = 18</text>
<text x="180.2" y="664.8" font-size="10" fill="#fff" text-anchor="start" >WNDG = 0.0</text>
<text x="9.6" y="675.8" font-size="10" fill="#fff" text-anchor="start" >MeanW = 3.3g/kg</text>
<text x="106.3" y="675.8" font-size="10" fill="#fff" text-anchor="start" >TT = 43</text>
<text x="180.2" y="675.8" font-size="10" fill="#fff" text-anchor="start" >TEI = 7</text>
<text x="9.6" y="686.7" font-size="10" fill="#fff" text-anchor="start" >LowRH = 46%</text>
<text x="106.3" y="686.7" font-size="10" fill="#fff" text-anchor="start" >ConvT = --F</text>
<text x="180.2" y="686.7" font-size="10" fill="#fff" text-anchor="start" >3CAPE = 0</text>
<text x="9.6" y="697.7" font-size="10" fill="#fff" text-anchor="start" >MidRH = 46%</text>
<text x="106.3" y="697.7" font-size="10" fill="#fff" text-anchor="start" >maxT = 57F</text>
<text x="180.2" y="697.7" font-size="10" fill="#fff" text-anchor="start" >MBURST = 0</text>
<text x="9.6" y="708.6" font-size="10" fill="#fff" text-anchor="start" >DCAPE = 236</text>
<text x="106.3" y="708.6" font-size="10" fill="#fff" text-anchor="start" >ESP = 0</text>
<text x="9.6" y="719.6" font-size="10" fill="#fff" text-anchor="start" >DownT = 39F</text>
<text x="106.3" y="719.6" font-size="10" fill="#fff" text-anchor="start" >MMP = 0.0</text>
<text x="180.2" y="719.6" font-size="10" fill="#fff" text-anchor="start" >SigSvr = 0 m3/s3</text>
<text x="9.0" y="735.4" font-size="10.4" fill="#ff8c00" text-anchor="start" >Sfc-3km AGL LR = 7.4 C/km</text>
<text x="9.0" y="746.5" font-size="10.4" fill="#ffee00" text-anchor="start" >3-6km AGL LR = 6.8 C/km</text>
<text x="9.0" y="757.6" font-size="10.4" fill="#ffee00" text-anchor="start" >850-500mb LR = 7.0 C/km</text>
<text x="9.0" y="768.7" font-size="10.4" fill="#00ff00" text-anchor="start" >700-500mb LR = 5.8 C/km</text>
<text x="209.5" y="735.3" font-size="10" fill="#fff" text-anchor="start" >Supercell = 0.0</text>
<text x="209.5" y="746.4" font-size="10" fill="#fff" text-anchor="start" >STP (cin) = 0.0</text>
<text x="209.5" y="757.5" font-size="10" fill="#00ff00" text-anchor="start" >STP (fix) = 0.0</text>
<text x="209.5" y="768.6" font-size="10" fill="#fff" text-anchor="start" >SHIP = 0.0</text>
<line x1="298.00" y1="604.50" x2="590.00" y2="604.50" stroke="#fff" stroke-width="1" />
<text x="385.9" y="602.5" font-size="10" fill="#fff" text-anchor="middle" >SRH (m2/s2)</text>
<text x="458.7" y="602.5" font-size="10" fill="#fff" text-anchor="middle" >Shear (kt)</text>
<text x="516.7" y="602.5" font-size="10" fill="#fff" text-anchor="middle" >MnWind</text>
<text x="571.1" y="602.5" font-size="10" fill="#fff" text-anchor="middle" >SRW</text>
<text x="303.7" y="615.8" font-size="10.6" fill="#fff" text-anchor="start" textLength="42.3" lengthAdjust="spacingAndGlyphs" >SFC-1km</text>
<text x="413.5" y="615.6" font-size="10" fill="#fff" text-anchor="end" >30</text>
<text x="472.6" y="615.6" font-size="10" fill="#fff" text-anchor="end" >6</text>
<text x="531.2" y="615.6" font-size="10" fill="#fff" text-anchor="end" >315/6</text>
<text x="589.5" y="615.6" font-size="10" fill="#fff" text-anchor="end" >84/24</text>
<text x="303.7" y="627.1" font-size="10.6" fill="#fff" text-anchor="start" textLength="42.3" lengthAdjust="spacingAndGlyphs" >SFC-3km</text>
<text x="413.5" y="626.9" font-size="10" fill="#fff" text-anchor="end" >93</text>
<text x="472.6" y="626.9" font-size="10" fill="#fff" text-anchor="end" >27</text>
<text x="531.2" y="626.9" font-size="10" fill="#fff" text-anchor="end" >261/10</text>
<text x="589.5" y="626.9" font-size="10" fill="#fff" text-anchor="end" >99/18</text>
<text x="303.7" y="638.0" font-size="10.6" fill="#fff" text-anchor="start" textLength="73" lengthAdjust="spacingAndGlyphs" >Eff Inflow Layer</text>
<text x="413.5" y="637.8" font-size="10" fill="#fff" text-anchor="end" >--</text>
<text x="472.6" y="637.8" font-size="10" fill="#fff" text-anchor="end" >--</text>
<text x="531.2" y="637.8" font-size="10" fill="#fff" text-anchor="end" >--/--</text>
<text x="589.5" y="637.8" font-size="10" fill="#fff" text-anchor="end" >--/--</text>
<text x="303.7" y="654.1" font-size="10.6" fill="#fff" text-anchor="start" textLength="42.3" lengthAdjust="spacingAndGlyphs" >SFC-6km</text>
<text x="472.6" y="653.9" font-size="10" fill="#fff" text-anchor="end" >44</text>
<text x="531.2" y="653.9" font-size="10" fill="#fff" text-anchor="end" >244/17</text>
<text x="589.5" y="653.9" font-size="10" fill="#fff" text-anchor="end" >127/15</text>
<text x="303.7" y="665.0" font-size="10.6" fill="#fff" text-anchor="start" textLength="42.3" lengthAdjust="spacingAndGlyphs" >SFC-8km</text>
<text x="472.6" y="664.8" font-size="10" fill="#fff" text-anchor="end" >76</text>
<text x="531.2" y="664.8" font-size="10" fill="#fff" text-anchor="end" >240/22</text>
<text x="589.5" y="664.8" font-size="10" fill="#fff" text-anchor="end" >148/15</text>
<text x="303.7" y="676.0" font-size="10.6" fill="#d09010" text-anchor="start" textLength="102.5" lengthAdjust="spacingAndGlyphs" >LCL-EL (Cloud Layer)</text>
<text x="472.6" y="675.8" font-size="10" fill="#fff" text-anchor="end" >0</text>
<text x="531.2" y="675.8" font-size="10" fill="#d09010" text-anchor="end" >234/35</text>
<text x="589.5" y="675.8" font-size="10" fill="#fff" text-anchor="end" >182/22</text>
<text x="303.7" y="687.1" font-size="10.6" fill="#fff" text-anchor="start" textLength="86.7" lengthAdjust="spacingAndGlyphs" >Eff Shear (EBWD)</text>
<text x="472.6" y="686.9" font-size="10" fill="#fff" text-anchor="end" >--</text>
<text x="531.2" y="686.9" font-size="10" fill="#fff" text-anchor="end" >--/--</text>
<text x="589.5" y="686.9" font-size="10" fill="#fff" text-anchor="end" >--/--</text>
<text x="303.7" y="703.2" font-size="10.6" fill="#fff" text-anchor="start" textLength="58.6" lengthAdjust="spacingAndGlyphs" >BRN Shear =</text>
<text x="472.6" y="703.1" font-size="10.3" fill="#fff" text-anchor="end" >41 m2/s2</text>
<text x="303.7" y="714.3" font-size="10.6" fill="#fff" text-anchor="start" textLength="78.8" lengthAdjust="spacingAndGlyphs" >4-6km SR Wind =</text>
<text x="472.6" y="714.2" font-size="10.3" fill="#fff" text-anchor="end" >181/22 kt</text>
<text x="303.7" y="730.1" font-size="10.6" fill="#fff" text-anchor="start" textLength="120" lengthAdjust="spacingAndGlyphs" >...Storm Motion Vectors...</text>
<text x="303.7" y="741.2" font-size="10.6" fill="#f05050" text-anchor="start" textLength="71.7" lengthAdjust="spacingAndGlyphs" >Bunkers Right =</text>
<text x="472.6" y="741.1" font-size="10.3" fill="#f05050" text-anchor="end" >273/27 kt</text>
<text x="303.7" y="752.3" font-size="10.6" fill="#1a9ad9" text-anchor="start" textLength="65.2" lengthAdjust="spacingAndGlyphs" >Bunkers Left =</text>
<text x="472.6" y="752.2" font-size="10.3" fill="#1a9ad9" text-anchor="end" >201/22 kt</text>
<text x="303.7" y="763.4" font-size="10.6" fill="#fff" text-anchor="start" textLength="94.6" lengthAdjust="spacingAndGlyphs" >Corfidi Downshear =</text>
<text x="472.6" y="763.3" font-size="10.3" fill="#fff" text-anchor="end" >233/54 kt</text>
<text x="303.7" y="774.3" font-size="10.6" fill="#fff" text-anchor="start" textLength="80.4" lengthAdjust="spacingAndGlyphs" >Corfidi Upshear =</text>
<text x="472.6" y="774.2" font-size="10.3" fill="#fff" text-anchor="end" >229/26 kt</text>
<text x="531.7" y="762.3" font-size="10" fill="#fff" text-anchor="middle" >1km &amp; 6km AGL</text>
<text x="531.7" y="773.3" font-size="10" fill="#fff" text-anchor="middle" >Wind Barbs</text>
<path d="M532.6,724.6L512.5,739.5M512.5,739.5L507.1,731.1M515.4,737.4L510.0,728.9M518.3,735.2L512.9,726.8M521.2,733.1L515.8,724.6M524.1,730.9L521.4,726.7" stroke="#e8d800" stroke-width="1.3" fill="none"/>
<path d="M532.6,724.6L509.0,733.4M509.0,733.4L507.4,728.1" stroke="#20d8e8" stroke-width="1.3" fill="none"/>
<line x1="591.00" y1="614.50" x2="884.00" y2="614.50" stroke="#fff" stroke-width="1" />
<line x1="738.50" y1="615.00" x2="738.50" y2="780.00" stroke="#fff" stroke-width="1" />
<text x="737.4" y="607.1" font-size="16" fill="#fff" text-anchor="middle" textLength="260" lengthAdjust="spacingAndGlyphs" >SARS - Sounding Analogue System</text>
<text x="664.0" y="630.9" font-size="14" fill="#fff" text-anchor="middle" >SUPERCELL</text>
<text x="811.0" y="630.9" font-size="14" fill="#fff" text-anchor="middle" >SEVERE HAIL</text>
<text x="664.0" y="675.6" font-size="10" fill="#f0c010" text-anchor="middle" textLength="88.7" lengthAdjust="spacingAndGlyphs" >No Quality Matches</text>
<text x="811.0" y="675.6" font-size="10" fill="#f0c010" text-anchor="middle" textLength="88.7" lengthAdjust="spacingAndGlyphs" >No Quality Matches</text>
<text x="1030.4" y="603.0" font-size="12" fill="#fff" text-anchor="middle" textLength="168" lengthAdjust="spacingAndGlyphs" >Effective Layer STP (with CIN)</text>
<line x1="885.00" y1="748.70" x2="1177.00" y2="748.70" stroke="#3a3430" stroke-width="1.5" stroke-dasharray="4,2"/>
<line x1="885.00" y1="735.00" x2="1177.00" y2="735.00" stroke="#3a3430" stroke-width="1.5" stroke-dasharray="4,2"/>
<line x1="885.00" y1="721.30" x2="1177.00" y2="721.30" stroke="#3a3430" stroke-width="1.5" stroke-dasharray="4,2"/>
<line x1="885.00" y1="707.60" x2="1177.00" y2="707.60" stroke="#3a3430" stroke-width="1.5" stroke-dasharray="4,2"/>
<line x1="885.00" y1="693.90" x2="1177.00" y2="693.90" stroke="#3a3430" stroke-width="1.5" stroke-dasharray="4,2"/>
<line x1="885.00" y1="680.20" x2="1177.00" y2="680.20" stroke="#3a3430" stroke-width="1.5" stroke-dasharray="4,2"/>
<line x1="885.00" y1="666.50" x2="1177.00" y2="666.50" stroke="#3a3430" stroke-width="1.5" stroke-dasharray="4,2"/>
<line x1="885.00" y1="652.80" x2="1177.00" y2="652.80" stroke="#3a3430" stroke-width="1.5" stroke-dasharray="4,2"/>
<line x1="885.00" y1="639.10" x2="1177.00" y2="639.10" stroke="#3a3430" stroke-width="1.5" stroke-dasharray="4,2"/>
<line x1="885.00" y1="625.40" x2="1177.00" y2="625.40" stroke="#3a3430" stroke-width="1.5" stroke-dasharray="4,2"/>
<line x1="885.00" y1="611.70" x2="1177.00" y2="611.70" stroke="#3a3430" stroke-width="1.5" stroke-dasharray="4,2"/>
<text x="894.3" y="766.4" font-size="11" fill="#fff" text-anchor="middle" >0</text>
<text x="894.3" y="752.7" font-size="11" fill="#fff" text-anchor="middle" >1</text>
<text x="894.3" y="739.0" font-size="11" fill="#fff" text-anchor="middle" >2</text>
<text x="894.3" y="725.3" font-size="11" fill="#fff" text-anchor="middle" >3</text>
<text x="894.3" y="711.6" font-size="11" fill="#fff" text-anchor="middle" >4</text>
<text x="894.3" y="697.9" font-size="11" fill="#fff" text-anchor="middle" >5</text>
<text x="894.3" y="684.2" font-size="11" fill="#fff" text-anchor="middle" >6</text>
<text x="894.3" y="670.5" font-size="11" fill="#fff" text-anchor="middle" >7</text>
<text x="894.3" y="656.8" font-size="11" fill="#fff" text-anchor="middle" >8</text>
<text x="894.3" y="643.1" font-size="11" fill="#fff" text-anchor="middle" >9</text>
<text x="894.3" y="629.4" font-size="11" fill="#fff" text-anchor="middle" >10</text>
<text x="894.3" y="615.7" font-size="11" fill="#fff" text-anchor="middle" >11</text>
<line x1="885.00" y1="763.00" x2="1177.00" y2="763.00" stroke="#10d0d0" stroke-width="2" />
<line x1="926.10" y1="611.10" x2="926.10" y2="648.70" stroke="#ff10ff" stroke-width="2" />
<line x1="926.10" y1="727.30" x2="926.10" y2="746.70" stroke="#ff10ff" stroke-width="2" />
<rect x="915.6" y="648.7" width="21.5" height="78.59999999999991" fill="#000" stroke="#ff10ff" stroke-width="2" />
<line x1="915.60" y1="689.70" x2="937.10" y2="689.70" stroke="#ff10ff" stroke-width="2" />
<line x1="968.20" y1="646.10" x2="968.20" y2="700.60" stroke="#ff1010" stroke-width="2" />
<line x1="968.20" y1="749.30" x2="968.20" y2="760.20" stroke="#ff1010" stroke-width="2" />
<rect x="957.7" y="700.6" width="21.5" height="48.69999999999993" fill="#000" stroke="#ff1010" stroke-width="2" />
<line x1="957.70" y1="729.60" x2="979.20" y2="729.60" stroke="#ff1010" stroke-width="2" />
<line x1="1009.60" y1="685.00" x2="1009.60" y2="711.70" stroke="#ff8c10" stroke-width="2" />
<line x1="1009.60" y1="753.70" x2="1009.60" y2="762.00" stroke="#ff8c10" stroke-width="2" />
<rect x="999.1" y="711.7" width="21.5" height="42.0" fill="#000" stroke="#ff8c10" stroke-width="2" />
<line x1="999.10" y1="739.50" x2="1020.60" y2="739.50" stroke="#ff8c10" stroke-width="2" />
<line x1="1051.60" y1="699.80" x2="1051.60" y2="726.50" stroke="#ffee00" stroke-width="2" />
<line x1="1051.60" y1="758.10" x2="1051.60" y2="762.00" stroke="#ffee00" stroke-width="2" />
<rect x="1041.1" y="726.5" width="21.5" height="31.600000000000023" fill="#000" stroke="#ffee00" stroke-width="2" />
<line x1="1041.10" y1="745.40" x2="1062.60" y2="745.40" stroke="#ffee00" stroke-width="2" />
<line x1="1093.90" y1="711.50" x2="1093.90" y2="734.80" stroke="#ffee00" stroke-width="2" />
<line x1="1093.90" y1="760.70" x2="1093.90" y2="762.00" stroke="#ffee00" stroke-width="2" />
<rect x="1083.4" y="734.8" width="21.5" height="25.90000000000009" fill="#000" stroke="#ffee00" stroke-width="2" />
<line x1="1083.40" y1="751.60" x2="1104.90" y2="751.60" stroke="#ffee00" stroke-width="2" />
<line x1="1136.20" y1="738.20" x2="1136.20" y2="752.40" stroke="#10ff10" stroke-width="2" />
<line x1="1136.20" y1="761.50" x2="1136.20" y2="762.00" stroke="#10ff10" stroke-width="2" />
<rect x="1125.7" y="752.4" width="21.5" height="9.100000000000023" fill="#000" stroke="#10ff10" stroke-width="2" />
<line x1="1125.70" y1="758.90" x2="1147.20" y2="758.90" stroke="#10ff10" stroke-width="2" />
<text x="926.1" y="775.9" font-size="11" fill="#fff" text-anchor="middle" >EF4+</text>
<text x="968.2" y="775.9" font-size="11" fill="#fff" text-anchor="middle" >EF3</text>
<text x="1010.0" y="775.9" font-size="11" fill="#fff" text-anchor="middle" >EF2</text>
<text x="1051.6" y="775.9" font-size="11" fill="#fff" text-anchor="middle" >EF1</text>
<text x="1093.9" y="775.9" font-size="11" fill="#fff" text-anchor="middle" >EF0</text>
<text x="1136.2" y="775.9" font-size="11" fill="#fff" text-anchor="middle" >NONTOR</text>
<rect x="1031" y="611.6" width="142.5" height="84.6" fill="#000" stroke="#fff" stroke-width="2" />
<line x1="1031.00" y1="624.60" x2="1173.50" y2="624.60" stroke="#fff" stroke-width="2" />
<text x="1034.3" y="623.4" font-size="11" fill="#fff" text-anchor="start" textLength="123.5" lengthAdjust="spacingAndGlyphs" >Prob EF2+ Given Supercell</text>
<text x="1033.5" y="635.7" font-size="10.5" fill="#fff" text-anchor="start" >based on CAPE:</text>
<text x="1138.0" y="635.7" font-size="10.5" fill="#fff" text-anchor="start" >0.0</text>
<text x="1033.5" y="646.7" font-size="10.5" fill="#fff" text-anchor="start" >based on LCL:</text>
<text x="1138.0" y="646.7" font-size="10.5" fill="#fff" text-anchor="start" >0.06</text>
<text x="1033.5" y="657.7" font-size="10.5" fill="#fff" text-anchor="start" >based on ESRH:</text>
<text x="1138.0" y="657.7" font-size="10.5" fill="#fff" text-anchor="start" >--</text>
<text x="1033.5" y="668.7" font-size="10.5" fill="#fff" text-anchor="start" >based on EBWD:</text>
<text x="1138.0" y="668.7" font-size="10.5" fill="#fff" text-anchor="start" >--</text>
<text x="1033.5" y="679.7" font-size="10.5" fill="#fff" text-anchor="start" >based on STPC:</text>
<text x="1138.0" y="679.7" font-size="10.5" fill="#fff" text-anchor="start" >0.06</text>
<text x="1033.5" y="690.7" font-size="10.5" fill="#fff" text-anchor="start" >based on STP_fixed:</text>
<text x="1138.0" y="690.7" font-size="10.5" fill="#fff" text-anchor="start" >0.05</text>
</svg></body></html>
